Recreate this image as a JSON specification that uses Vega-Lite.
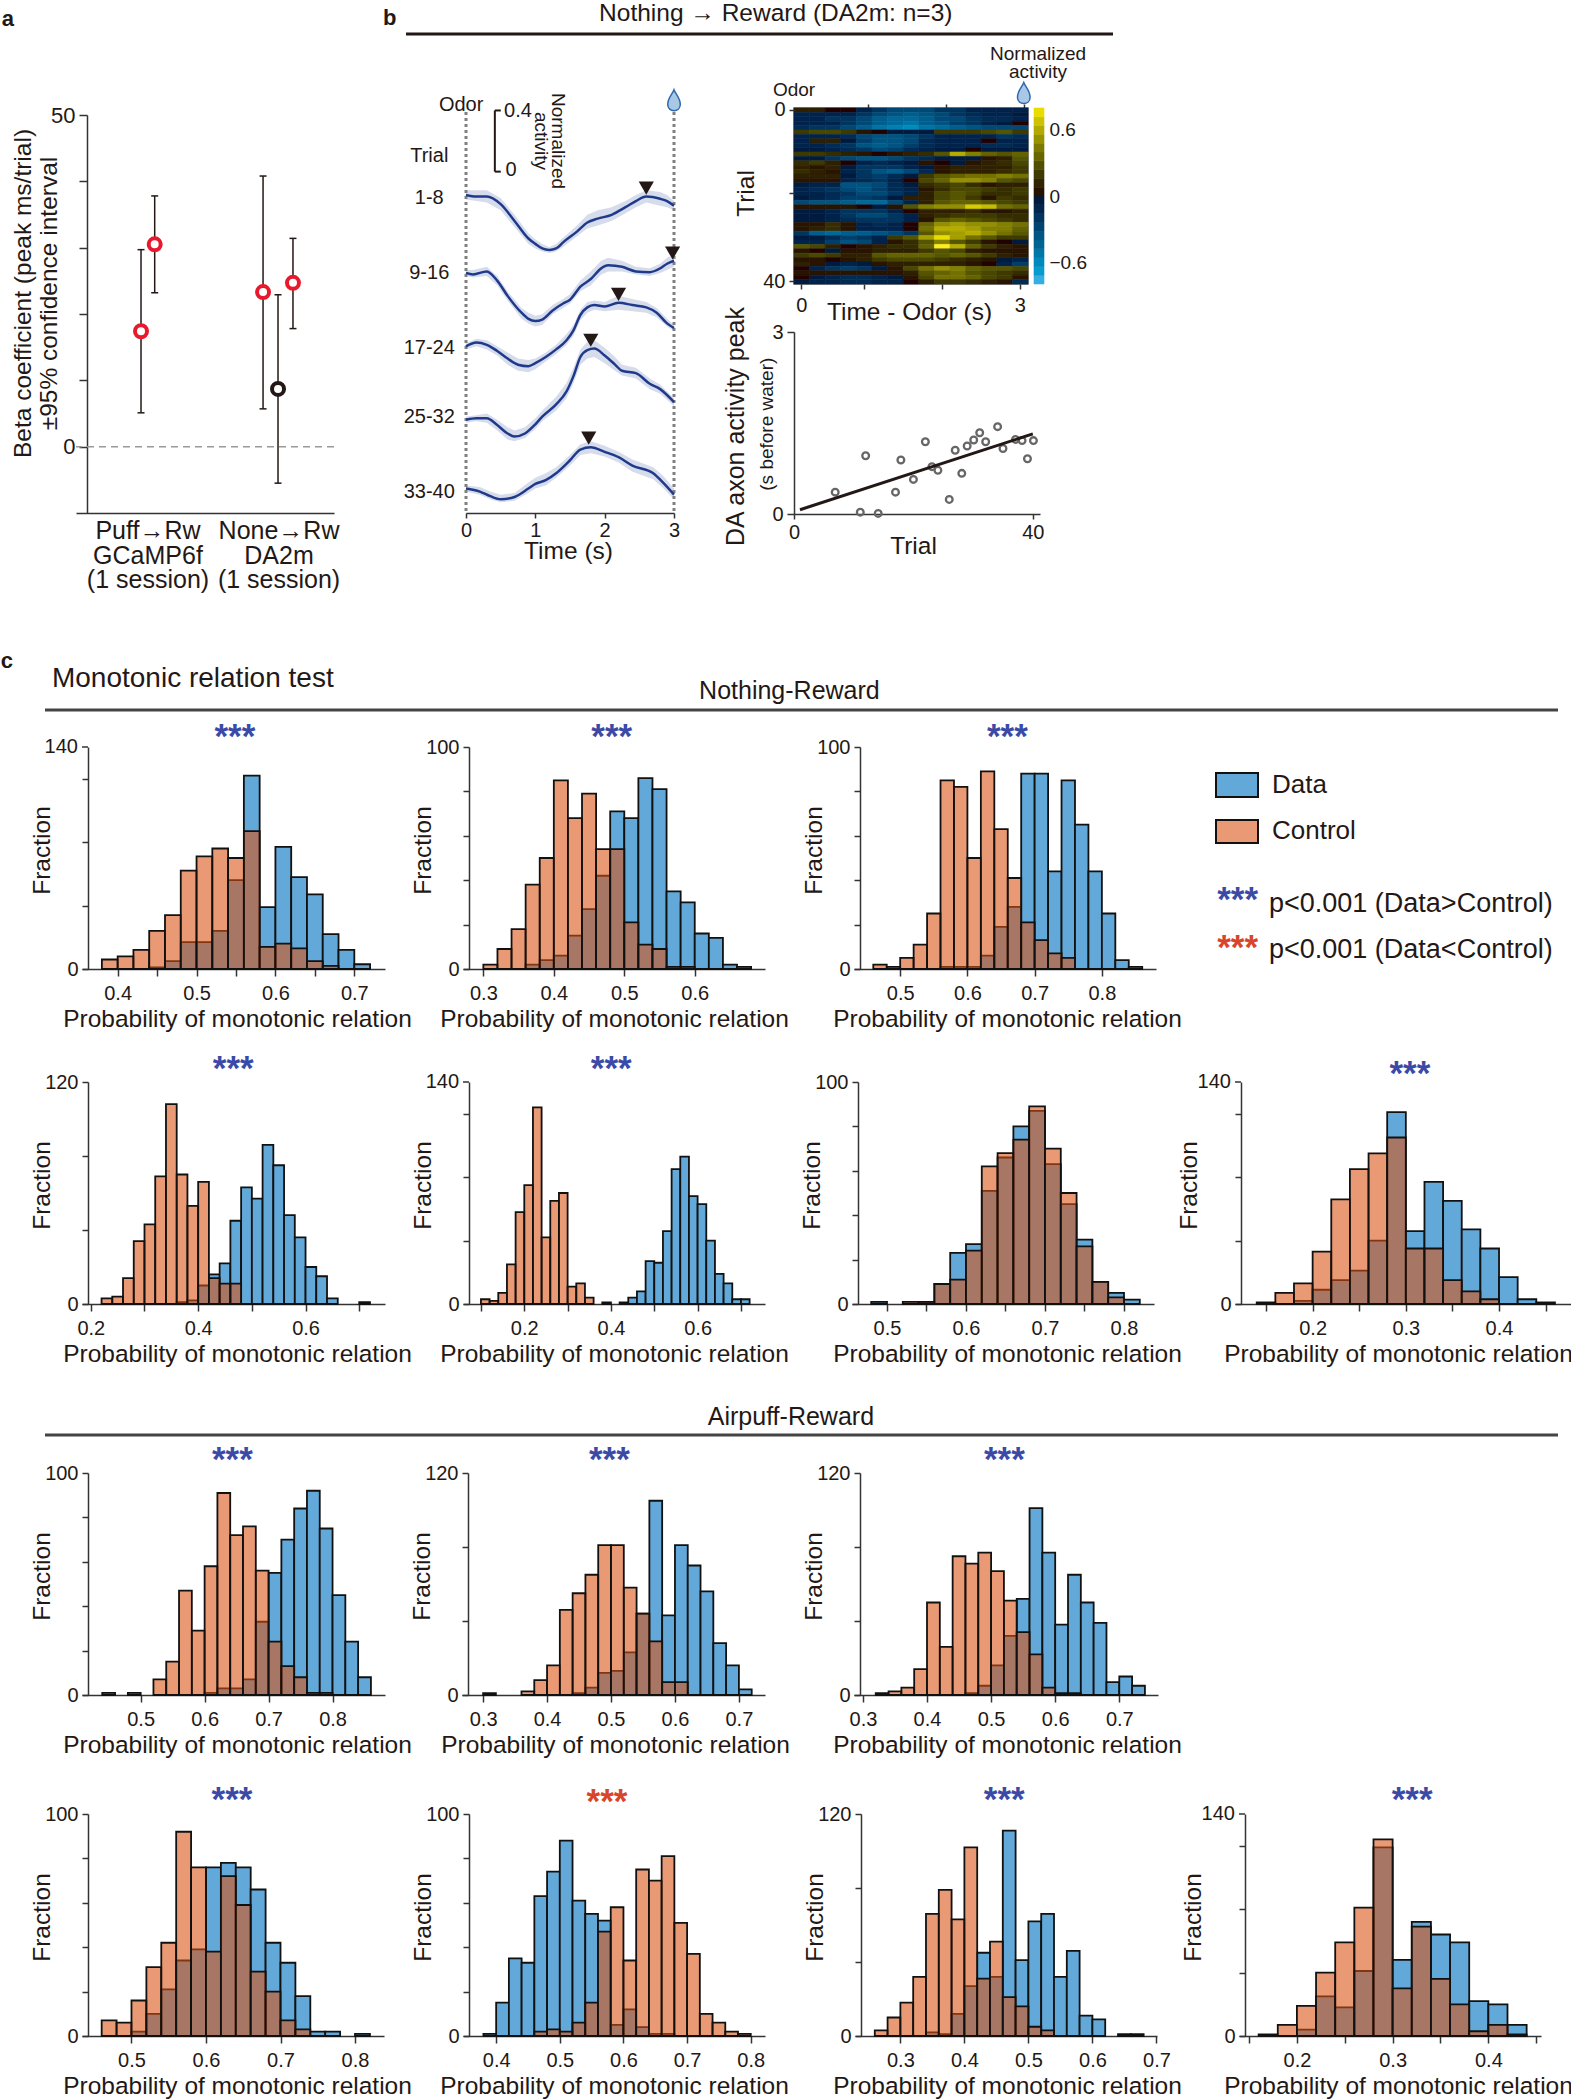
{"$schema":"https://vega.github.io/schema/vega-lite/v6.json","padding":0,"spacing":0,"data":{"values":[]},
"config":{"font":"Liberation Sans","view":{"stroke":null},"text":{"color":"#231815"},"axis":{"grid":false,"domainColor":"#333","domainWidth":1.5,"tickColor":"#333","tickWidth":1.5,"labelColor":"#231815","titleColor":"#231815","labelFontSize":20,"titleFontSize":24.5,"titleFontWeight":"normal","labelOverlap":false,"labelBound":false,"labelFlush":false,"titleBaseline":"middle"},"axisX":{"tickSize":7,"labelPadding":7,"titleY":50},"axisY":{"tickSize":6,"labelPadding":4,"titleX":-46,"titleY":103,"offset":-6}},
"datasets":{
"a":[{"cond":"Puff GCaMP6f 1","u":0.252,"b":17.4,"lo":5.1,"hi":29.7,"sig":"sig"},{"cond":"Puff GCaMP6f 2","u":0.305,"b":30.5,"lo":23.2,"hi":37.8,"sig":"sig"},{"cond":"None DA2m 1","u":0.725,"b":23.3,"lo":5.7,"hi":40.8,"sig":"sig"},{"cond":"None DA2m 2","u":0.783,"b":8.7,"lo":-5.5,"hi":22.9,"sig":"ns"},{"cond":"None DA2m 3","u":0.841,"b":24.7,"lo":17.8,"hi":31.4,"sig":"sig"}],
"lines":[
{"k":"1-8","t":0,"y":2.08,"lo":2.05,"hi":2.11},{"k":"1-8","t":0.15,"y":2.07,"lo":2.04,"hi":2.11},{"k":"1-8","t":0.3,"y":2.07,"lo":2.03,"hi":2.11},{"k":"1-8","t":0.5,"y":2.02,"lo":1.98,"hi":2.06},{"k":"1-8","t":0.7,"y":1.91,"lo":1.87,"hi":1.95},{"k":"1-8","t":0.9,"y":1.795,"lo":1.76,"hi":1.83},{"k":"1-8","t":1,"y":1.76,"lo":1.73,"hi":1.79},{"k":"1-8","t":1.1,"y":1.73,"lo":1.71,"hi":1.76},{"k":"1-8","t":1.2,"y":1.72,"lo":1.7,"hi":1.74},{"k":"1-8","t":1.3,"y":1.73,"lo":1.71,"hi":1.76},{"k":"1-8","t":1.4,"y":1.77,"lo":1.74,"hi":1.8},{"k":"1-8","t":1.6,"y":1.84,"lo":1.81,"hi":1.88},{"k":"1-8","t":1.75,"y":1.9,"lo":1.86,"hi":1.95},{"k":"1-8","t":1.9,"y":1.925,"lo":1.88,"hi":1.98},{"k":"1-8","t":2.1,"y":1.95,"lo":1.91,"hi":2},{"k":"1-8","t":2.3,"y":2,"lo":1.96,"hi":2.04},{"k":"1-8","t":2.45,"y":2.04,"lo":2,"hi":2.08},{"k":"1-8","t":2.6,"y":2.07,"lo":2.03,"hi":2.11},{"k":"1-8","t":2.8,"y":2.055,"lo":2.01,"hi":2.1},{"k":"1-8","t":2.9,"y":2.04,"lo":2,"hi":2.08},{"k":"1-8","t":3,"y":2.01,"lo":1.98,"hi":2.04},
{"k":"9-16","t":0,"y":1.57,"lo":1.55,"hi":1.59},{"k":"9-16","t":0.1,"y":1.56,"lo":1.54,"hi":1.59},{"k":"9-16","t":0.3,"y":1.58,"lo":1.55,"hi":1.61},{"k":"9-16","t":0.45,"y":1.52,"lo":1.49,"hi":1.55},{"k":"9-16","t":0.6,"y":1.42,"lo":1.39,"hi":1.45},{"k":"9-16","t":0.8,"y":1.31,"lo":1.27,"hi":1.34},{"k":"9-16","t":0.9,"y":1.27,"lo":1.24,"hi":1.31},{"k":"9-16","t":1,"y":1.255,"lo":1.22,"hi":1.29},{"k":"9-16","t":1.1,"y":1.265,"lo":1.23,"hi":1.3},{"k":"9-16","t":1.25,"y":1.325,"lo":1.3,"hi":1.36},{"k":"9-16","t":1.4,"y":1.37,"lo":1.34,"hi":1.4},{"k":"9-16","t":1.5,"y":1.395,"lo":1.37,"hi":1.43},{"k":"9-16","t":1.65,"y":1.48,"lo":1.45,"hi":1.52},{"k":"9-16","t":1.8,"y":1.53,"lo":1.49,"hi":1.58},{"k":"9-16","t":1.95,"y":1.6,"lo":1.56,"hi":1.65},{"k":"9-16","t":2.05,"y":1.62,"lo":1.58,"hi":1.67},{"k":"9-16","t":2.25,"y":1.61,"lo":1.58,"hi":1.65},{"k":"9-16","t":2.45,"y":1.58,"lo":1.56,"hi":1.61},{"k":"9-16","t":2.65,"y":1.575,"lo":1.55,"hi":1.6},{"k":"9-16","t":2.8,"y":1.6,"lo":1.57,"hi":1.63},{"k":"9-16","t":2.9,"y":1.63,"lo":1.59,"hi":1.67},{"k":"9-16","t":3,"y":1.65,"lo":1.61,"hi":1.69},
{"k":"17-24","t":0,"y":1.09,"lo":1.07,"hi":1.11},{"k":"17-24","t":0.15,"y":1.115,"lo":1.09,"hi":1.14},{"k":"17-24","t":0.3,"y":1.1,"lo":1.07,"hi":1.13},{"k":"17-24","t":0.45,"y":1.06,"lo":1.03,"hi":1.09},{"k":"17-24","t":0.6,"y":1.01,"lo":0.97,"hi":1.05},{"k":"17-24","t":0.75,"y":0.97,"lo":0.93,"hi":1.01},{"k":"17-24","t":0.9,"y":0.96,"lo":0.92,"hi":1},{"k":"17-24","t":1,"y":0.98,"lo":0.94,"hi":1.01},{"k":"17-24","t":1.15,"y":1.02,"lo":0.99,"hi":1.05},{"k":"17-24","t":1.3,"y":1.07,"lo":1.04,"hi":1.1},{"k":"17-24","t":1.45,"y":1.13,"lo":1.1,"hi":1.17},{"k":"17-24","t":1.55,"y":1.195,"lo":1.16,"hi":1.23},{"k":"17-24","t":1.65,"y":1.295,"lo":1.26,"hi":1.33},{"k":"17-24","t":1.75,"y":1.345,"lo":1.31,"hi":1.38},{"k":"17-24","t":1.85,"y":1.36,"lo":1.33,"hi":1.39},{"k":"17-24","t":2,"y":1.35,"lo":1.32,"hi":1.38},{"k":"17-24","t":2.2,"y":1.375,"lo":1.33,"hi":1.42},{"k":"17-24","t":2.4,"y":1.36,"lo":1.32,"hi":1.4},{"k":"17-24","t":2.6,"y":1.345,"lo":1.31,"hi":1.38},{"k":"17-24","t":2.75,"y":1.31,"lo":1.28,"hi":1.34},{"k":"17-24","t":2.9,"y":1.24,"lo":1.22,"hi":1.27},{"k":"17-24","t":3,"y":1.21,"lo":1.19,"hi":1.23},
{"k":"25-32","t":0,"y":0.61,"lo":0.59,"hi":0.63},{"k":"25-32","t":0.15,"y":0.62,"lo":0.6,"hi":0.64},{"k":"25-32","t":0.3,"y":0.62,"lo":0.59,"hi":0.65},{"k":"25-32","t":0.45,"y":0.575,"lo":0.54,"hi":0.61},{"k":"25-32","t":0.6,"y":0.52,"lo":0.48,"hi":0.56},{"k":"25-32","t":0.7,"y":0.5,"lo":0.47,"hi":0.54},{"k":"25-32","t":0.85,"y":0.52,"lo":0.49,"hi":0.56},{"k":"25-32","t":1,"y":0.58,"lo":0.55,"hi":0.62},{"k":"25-32","t":1.1,"y":0.63,"lo":0.6,"hi":0.67},{"k":"25-32","t":1.3,"y":0.71,"lo":0.67,"hi":0.76},{"k":"25-32","t":1.45,"y":0.795,"lo":0.75,"hi":0.85},{"k":"25-32","t":1.55,"y":0.895,"lo":0.85,"hi":0.95},{"k":"25-32","t":1.65,"y":1.02,"lo":0.97,"hi":1.07},{"k":"25-32","t":1.75,"y":1.065,"lo":1.01,"hi":1.12},{"k":"25-32","t":1.85,"y":1.075,"lo":1.02,"hi":1.13},{"k":"25-32","t":2,"y":1.03,"lo":0.98,"hi":1.08},{"k":"25-32","t":2.15,"y":0.97,"lo":0.93,"hi":1.02},{"k":"25-32","t":2.25,"y":0.93,"lo":0.9,"hi":0.97},{"k":"25-32","t":2.45,"y":0.915,"lo":0.88,"hi":0.95},{"k":"25-32","t":2.65,"y":0.845,"lo":0.81,"hi":0.88},{"k":"25-32","t":2.8,"y":0.81,"lo":0.78,"hi":0.84},{"k":"25-32","t":3,"y":0.725,"lo":0.7,"hi":0.75},
{"k":"33-40","t":0,"y":0.16,"lo":0.14,"hi":0.18},{"k":"33-40","t":0.2,"y":0.14,"lo":0.12,"hi":0.17},{"k":"33-40","t":0.35,"y":0.11,"lo":0.09,"hi":0.14},{"k":"33-40","t":0.5,"y":0.09,"lo":0.07,"hi":0.12},{"k":"33-40","t":0.7,"y":0.105,"lo":0.08,"hi":0.13},{"k":"33-40","t":0.9,"y":0.16,"lo":0.13,"hi":0.2},{"k":"33-40","t":1,"y":0.19,"lo":0.16,"hi":0.23},{"k":"33-40","t":1.15,"y":0.215,"lo":0.18,"hi":0.26},{"k":"33-40","t":1.3,"y":0.26,"lo":0.23,"hi":0.3},{"k":"33-40","t":1.5,"y":0.345,"lo":0.31,"hi":0.38},{"k":"33-40","t":1.65,"y":0.415,"lo":0.38,"hi":0.45},{"k":"33-40","t":1.8,"y":0.43,"lo":0.39,"hi":0.47},{"k":"33-40","t":2,"y":0.4,"lo":0.37,"hi":0.44},{"k":"33-40","t":2.2,"y":0.365,"lo":0.33,"hi":0.4},{"k":"33-40","t":2.4,"y":0.31,"lo":0.27,"hi":0.35},{"k":"33-40","t":2.7,"y":0.26,"lo":0.22,"hi":0.3},{"k":"33-40","t":2.85,"y":0.195,"lo":0.16,"hi":0.24},{"k":"33-40","t":3,"y":0.12,"lo":0.09,"hi":0.16}],
"peaks":[{"k":"1-8","t":2.6,"y":2.125},{"k":"9-16","t":2.98,"y":1.7},{"k":"17-24","t":2.2,"y":1.43},{"k":"25-32","t":1.8,"y":1.13},{"k":"33-40","t":1.77,"y":0.49}],
"scatter":[{"trial":6.9,"peak":0.36},{"trial":11.1,"peak":0.03},{"trial":12,"peak":0.96},{"trial":14.1,"peak":0.01},{"trial":17,"peak":0.36},{"trial":17.9,"peak":0.89},{"trial":20,"peak":0.57},{"trial":22,"peak":1.19},{"trial":23.1,"peak":0.78},{"trial":24.1,"peak":0.72},{"trial":26,"peak":0.24},{"trial":27,"peak":1.05},{"trial":28.1,"peak":0.67},{"trial":29,"peak":1.12},{"trial":30.1,"peak":1.22},{"trial":31.1,"peak":1.34},{"trial":32.1,"peak":1.19},{"trial":34.1,"peak":1.44},{"trial":35,"peak":1.08},{"trial":37.1,"peak":1.23},{"trial":38.2,"peak":1.21},{"trial":39.1,"peak":0.91},{"trial":40.1,"peak":1.21}],
"colorbar":[{"x0":1.0256,"x1":1.0684,"v0":-0.79,"v1":-0.711,"v":-0.75},{"x0":1.0256,"x1":1.0684,"v0":-0.711,"v1":-0.632,"v":-0.67},{"x0":1.0256,"x1":1.0684,"v0":-0.632,"v1":-0.553,"v":-0.59},{"x0":1.0256,"x1":1.0684,"v0":-0.553,"v1":-0.474,"v":-0.51},{"x0":1.0256,"x1":1.0684,"v0":-0.474,"v1":-0.395,"v":-0.43},{"x0":1.0256,"x1":1.0684,"v0":-0.395,"v1":-0.316,"v":-0.36},{"x0":1.0256,"x1":1.0684,"v0":-0.316,"v1":-0.237,"v":-0.28},{"x0":1.0256,"x1":1.0684,"v0":-0.237,"v1":-0.158,"v":-0.2},{"x0":1.0256,"x1":1.0684,"v0":-0.158,"v1":-0.079,"v":-0.12},{"x0":1.0256,"x1":1.0684,"v0":-0.079,"v1":0,"v":-0.04},{"x0":1.0256,"x1":1.0684,"v0":0,"v1":0.079,"v":0.04},{"x0":1.0256,"x1":1.0684,"v0":0.079,"v1":0.158,"v":0.12},{"x0":1.0256,"x1":1.0684,"v0":0.158,"v1":0.237,"v":0.2},{"x0":1.0256,"x1":1.0684,"v0":0.237,"v1":0.316,"v":0.28},{"x0":1.0256,"x1":1.0684,"v0":0.316,"v1":0.395,"v":0.36},{"x0":1.0256,"x1":1.0684,"v0":0.395,"v1":0.474,"v":0.43},{"x0":1.0256,"x1":1.0684,"v0":0.474,"v1":0.553,"v":0.51},{"x0":1.0256,"x1":1.0684,"v0":0.553,"v1":0.632,"v":0.59},{"x0":1.0256,"x1":1.0684,"v0":0.632,"v1":0.711,"v":0.67},{"x0":1.0256,"x1":1.0684,"v0":0.711,"v1":0.79,"v":0.75}],
"heat":[
{"r":1,"c":1,"v":0.1},{"r":1,"c":2,"v":0.1},{"r":1,"c":3,"v":0},{"r":1,"c":4,"v":0},{"r":1,"c":5,"v":-0.1},{"r":1,"c":6,"v":-0.2},{"r":1,"c":7,"v":-0.3},{"r":1,"c":8,"v":-0.3},{"r":1,"c":9,"v":-0.3},{"r":1,"c":10,"v":-0.2},{"r":1,"c":11,"v":-0.2},{"r":1,"c":12,"v":-0.1},{"r":1,"c":13,"v":-0.1},{"r":1,"c":14,"v":-0.1},{"r":1,"c":15,"v":-0.1},
{"r":2,"c":1,"v":-0.1},{"r":2,"c":2,"v":-0.1},{"r":2,"c":3,"v":-0.1},{"r":2,"c":4,"v":-0.1},{"r":2,"c":5,"v":-0.2},{"r":2,"c":6,"v":-0.3},{"r":2,"c":7,"v":-0.35},{"r":2,"c":8,"v":-0.4},{"r":2,"c":9,"v":-0.35},{"r":2,"c":10,"v":-0.3},{"r":2,"c":11,"v":-0.2},{"r":2,"c":12,"v":-0.15},{"r":2,"c":13,"v":-0.1},{"r":2,"c":14,"v":-0.1},{"r":2,"c":15,"v":-0.05},
{"r":3,"c":1,"v":-0.1},{"r":3,"c":2,"v":-0.1},{"r":3,"c":3,"v":-0.2},{"r":3,"c":4,"v":-0.2},{"r":3,"c":5,"v":-0.3},{"r":3,"c":6,"v":-0.4},{"r":3,"c":7,"v":-0.45},{"r":3,"c":8,"v":-0.45},{"r":3,"c":9,"v":-0.4},{"r":3,"c":10,"v":-0.3},{"r":3,"c":11,"v":-0.3},{"r":3,"c":12,"v":-0.2},{"r":3,"c":13,"v":-0.15},{"r":3,"c":14,"v":-0.15},{"r":3,"c":15,"v":-0.1},
{"r":4,"c":1,"v":-0.1},{"r":4,"c":2,"v":-0.1},{"r":4,"c":3,"v":-0.1},{"r":4,"c":4,"v":-0.2},{"r":4,"c":5,"v":-0.3},{"r":4,"c":6,"v":-0.4},{"r":4,"c":7,"v":-0.45},{"r":4,"c":8,"v":-0.5},{"r":4,"c":9,"v":-0.4},{"r":4,"c":10,"v":-0.35},{"r":4,"c":11,"v":-0.25},{"r":4,"c":12,"v":-0.2},{"r":4,"c":13,"v":-0.1},{"r":4,"c":14,"v":-0.05},{"r":4,"c":15,"v":0},
{"r":5,"c":1,"v":-0.15},{"r":5,"c":2,"v":-0.2},{"r":5,"c":3,"v":-0.2},{"r":5,"c":4,"v":-0.3},{"r":5,"c":5,"v":-0.4},{"r":5,"c":6,"v":-0.5},{"r":5,"c":7,"v":-0.55},{"r":5,"c":8,"v":-0.6},{"r":5,"c":9,"v":-0.5},{"r":5,"c":10,"v":-0.45},{"r":5,"c":11,"v":-0.4},{"r":5,"c":12,"v":-0.35},{"r":5,"c":13,"v":-0.3},{"r":5,"c":14,"v":-0.3},{"r":5,"c":15,"v":-0.3},
{"r":6,"c":1,"v":0.2},{"r":6,"c":2,"v":0.25},{"r":6,"c":3,"v":0.25},{"r":6,"c":4,"v":0.2},{"r":6,"c":5,"v":0.05},{"r":6,"c":6,"v":0},{"r":6,"c":7,"v":-0.05},{"r":6,"c":8,"v":-0.05},{"r":6,"c":9,"v":-0.05},{"r":6,"c":10,"v":0.2},{"r":6,"c":11,"v":0.2},{"r":6,"c":12,"v":0.2},{"r":6,"c":13,"v":0.25},{"r":6,"c":14,"v":0.3},{"r":6,"c":15,"v":0.2},
{"r":7,"c":1,"v":-0.1},{"r":7,"c":2,"v":-0.1},{"r":7,"c":3,"v":-0.1},{"r":7,"c":4,"v":-0.15},{"r":7,"c":5,"v":-0.3},{"r":7,"c":6,"v":-0.35},{"r":7,"c":7,"v":-0.35},{"r":7,"c":8,"v":-0.3},{"r":7,"c":9,"v":-0.2},{"r":7,"c":10,"v":-0.1},{"r":7,"c":11,"v":-0.1},{"r":7,"c":12,"v":-0.1},{"r":7,"c":13,"v":-0.1},{"r":7,"c":14,"v":-0.2},{"r":7,"c":15,"v":-0.15},
{"r":8,"c":1,"v":-0.1},{"r":8,"c":2,"v":0.1},{"r":8,"c":3,"v":0.1},{"r":8,"c":4,"v":-0.05},{"r":8,"c":5,"v":-0.25},{"r":8,"c":6,"v":-0.35},{"r":8,"c":7,"v":-0.35},{"r":8,"c":8,"v":-0.3},{"r":8,"c":9,"v":-0.15},{"r":8,"c":10,"v":-0.1},{"r":8,"c":11,"v":-0.1},{"r":8,"c":12,"v":-0.1},{"r":8,"c":13,"v":0},{"r":8,"c":14,"v":-0.1},{"r":8,"c":15,"v":-0.1},
{"r":9,"c":1,"v":-0.1},{"r":9,"c":2,"v":-0.1},{"r":9,"c":3,"v":-0.15},{"r":9,"c":4,"v":-0.2},{"r":9,"c":5,"v":-0.35},{"r":9,"c":6,"v":-0.4},{"r":9,"c":7,"v":-0.35},{"r":9,"c":8,"v":-0.25},{"r":9,"c":9,"v":-0.15},{"r":9,"c":10,"v":-0.1},{"r":9,"c":11,"v":-0.1},{"r":9,"c":12,"v":-0.1},{"r":9,"c":13,"v":-0.15},{"r":9,"c":14,"v":-0.15},{"r":9,"c":15,"v":-0.1},
{"r":10,"c":1,"v":-0.05},{"r":10,"c":2,"v":-0.05},{"r":10,"c":3,"v":-0.1},{"r":10,"c":4,"v":-0.15},{"r":10,"c":5,"v":-0.2},{"r":10,"c":6,"v":-0.3},{"r":10,"c":7,"v":-0.25},{"r":10,"c":8,"v":-0.15},{"r":10,"c":9,"v":-0.1},{"r":10,"c":10,"v":-0.05},{"r":10,"c":11,"v":-0.05},{"r":10,"c":12,"v":0},{"r":10,"c":13,"v":-0.05},{"r":10,"c":14,"v":-0.05},{"r":10,"c":15,"v":-0.05},
{"r":11,"c":1,"v":0.2},{"r":11,"c":2,"v":0.2},{"r":11,"c":3,"v":0.15},{"r":11,"c":4,"v":0.1},{"r":11,"c":5,"v":0.05},{"r":11,"c":6,"v":0},{"r":11,"c":7,"v":0.05},{"r":11,"c":8,"v":0.1},{"r":11,"c":9,"v":0.15},{"r":11,"c":10,"v":0.3},{"r":11,"c":11,"v":0.6},{"r":11,"c":12,"v":0.45},{"r":11,"c":13,"v":0.35},{"r":11,"c":14,"v":0.3},{"r":11,"c":15,"v":0.35},
{"r":12,"c":1,"v":-0.05},{"r":12,"c":2,"v":-0.05},{"r":12,"c":3,"v":-0.2},{"r":12,"c":4,"v":-0.3},{"r":12,"c":5,"v":-0.35},{"r":12,"c":6,"v":-0.35},{"r":12,"c":7,"v":-0.3},{"r":12,"c":8,"v":-0.2},{"r":12,"c":9,"v":-0.15},{"r":12,"c":10,"v":-0.05},{"r":12,"c":11,"v":-0.05},{"r":12,"c":12,"v":-0.05},{"r":12,"c":13,"v":0.05},{"r":12,"c":14,"v":0.1},{"r":12,"c":15,"v":0.3},
{"r":13,"c":1,"v":0.15},{"r":13,"c":2,"v":0.2},{"r":13,"c":3,"v":0.1},{"r":13,"c":4,"v":0},{"r":13,"c":5,"v":-0.1},{"r":13,"c":6,"v":-0.15},{"r":13,"c":7,"v":-0.1},{"r":13,"c":8,"v":-0.05},{"r":13,"c":9,"v":0.05},{"r":13,"c":10,"v":0},{"r":13,"c":11,"v":-0.05},{"r":13,"c":12,"v":0.05},{"r":13,"c":13,"v":0.1},{"r":13,"c":14,"v":0.15},{"r":13,"c":15,"v":0.25},
{"r":14,"c":1,"v":0.1},{"r":14,"c":2,"v":0.05},{"r":14,"c":3,"v":0.1},{"r":14,"c":4,"v":-0.05},{"r":14,"c":5,"v":-0.2},{"r":14,"c":6,"v":-0.2},{"r":14,"c":7,"v":-0.2},{"r":14,"c":8,"v":-0.1},{"r":14,"c":9,"v":-0.05},{"r":14,"c":10,"v":0.05},{"r":14,"c":11,"v":0.1},{"r":14,"c":12,"v":0.1},{"r":14,"c":13,"v":0.1},{"r":14,"c":14,"v":0.1},{"r":14,"c":15,"v":0.2},
{"r":15,"c":1,"v":0.15},{"r":15,"c":2,"v":0.1},{"r":15,"c":3,"v":0.05},{"r":15,"c":4,"v":-0.1},{"r":15,"c":5,"v":-0.2},{"r":15,"c":6,"v":-0.35},{"r":15,"c":7,"v":-0.4},{"r":15,"c":8,"v":-0.3},{"r":15,"c":9,"v":-0.15},{"r":15,"c":10,"v":0.05},{"r":15,"c":11,"v":0.1},{"r":15,"c":12,"v":0.1},{"r":15,"c":13,"v":0.1},{"r":15,"c":14,"v":0.15},{"r":15,"c":15,"v":0.2},
{"r":16,"c":1,"v":0.1},{"r":16,"c":2,"v":0.1},{"r":16,"c":3,"v":0.1},{"r":16,"c":4,"v":-0.05},{"r":16,"c":5,"v":-0.2},{"r":16,"c":6,"v":-0.25},{"r":16,"c":7,"v":-0.15},{"r":16,"c":8,"v":-0.05},{"r":16,"c":9,"v":0.2},{"r":16,"c":10,"v":0.3},{"r":16,"c":11,"v":0.35},{"r":16,"c":12,"v":0.4},{"r":16,"c":13,"v":0.4},{"r":16,"c":14,"v":0.45},{"r":16,"c":15,"v":0.4},
{"r":17,"c":1,"v":0.05},{"r":17,"c":2,"v":0.05},{"r":17,"c":3,"v":0.05},{"r":17,"c":4,"v":-0.1},{"r":17,"c":5,"v":-0.15},{"r":17,"c":6,"v":-0.2},{"r":17,"c":7,"v":-0.1},{"r":17,"c":8,"v":0},{"r":17,"c":9,"v":0.25},{"r":17,"c":10,"v":0.35},{"r":17,"c":11,"v":0.5},{"r":17,"c":12,"v":0.5},{"r":17,"c":13,"v":0.45},{"r":17,"c":14,"v":0.3},{"r":17,"c":15,"v":0.25},
{"r":18,"c":1,"v":-0.05},{"r":18,"c":2,"v":-0.1},{"r":18,"c":3,"v":-0.1},{"r":18,"c":4,"v":-0.35},{"r":18,"c":5,"v":-0.35},{"r":18,"c":6,"v":-0.3},{"r":18,"c":7,"v":-0.15},{"r":18,"c":8,"v":-0.05},{"r":18,"c":9,"v":0.15},{"r":18,"c":10,"v":0.2},{"r":18,"c":11,"v":0.25},{"r":18,"c":12,"v":0.15},{"r":18,"c":13,"v":0.05},{"r":18,"c":14,"v":0.1},{"r":18,"c":15,"v":0.1},
{"r":19,"c":1,"v":-0.1},{"r":19,"c":2,"v":-0.15},{"r":19,"c":3,"v":-0.2},{"r":19,"c":4,"v":-0.3},{"r":19,"c":5,"v":-0.35},{"r":19,"c":6,"v":-0.25},{"r":19,"c":7,"v":-0.15},{"r":19,"c":8,"v":-0.1},{"r":19,"c":9,"v":0.05},{"r":19,"c":10,"v":0.15},{"r":19,"c":11,"v":0.25},{"r":19,"c":12,"v":0.25},{"r":19,"c":13,"v":0.2},{"r":19,"c":14,"v":0.15},{"r":19,"c":15,"v":0.2},
{"r":20,"c":1,"v":-0.1},{"r":20,"c":2,"v":-0.1},{"r":20,"c":3,"v":-0.15},{"r":20,"c":4,"v":-0.2},{"r":20,"c":5,"v":-0.3},{"r":20,"c":6,"v":-0.3},{"r":20,"c":7,"v":-0.2},{"r":20,"c":8,"v":-0.1},{"r":20,"c":9,"v":0.1},{"r":20,"c":10,"v":0.25},{"r":20,"c":11,"v":0.3},{"r":20,"c":12,"v":0.25},{"r":20,"c":13,"v":0.15},{"r":20,"c":14,"v":0.15},{"r":20,"c":15,"v":0.2},
{"r":21,"c":1,"v":-0.05},{"r":21,"c":2,"v":-0.1},{"r":21,"c":3,"v":-0.15},{"r":21,"c":4,"v":-0.25},{"r":21,"c":5,"v":-0.25},{"r":21,"c":6,"v":-0.2},{"r":21,"c":7,"v":-0.05},{"r":21,"c":8,"v":0.1},{"r":21,"c":9,"v":0.1},{"r":21,"c":10,"v":0.25},{"r":21,"c":11,"v":0.3},{"r":21,"c":12,"v":0.2},{"r":21,"c":13,"v":0.05},{"r":21,"c":14,"v":0.2},{"r":21,"c":15,"v":0.15},
{"r":22,"c":1,"v":-0.3},{"r":22,"c":2,"v":-0.35},{"r":22,"c":3,"v":-0.35},{"r":22,"c":4,"v":-0.4},{"r":22,"c":5,"v":-0.45},{"r":22,"c":6,"v":-0.45},{"r":22,"c":7,"v":-0.3},{"r":22,"c":8,"v":-0.1},{"r":22,"c":9,"v":0.1},{"r":22,"c":10,"v":0.3},{"r":22,"c":11,"v":0.35},{"r":22,"c":12,"v":0.35},{"r":22,"c":13,"v":0.3},{"r":22,"c":14,"v":0.25},{"r":22,"c":15,"v":0.2},
{"r":23,"c":1,"v":0.05},{"r":23,"c":2,"v":0.05},{"r":23,"c":3,"v":0.05},{"r":23,"c":4,"v":0.05},{"r":23,"c":5,"v":0},{"r":23,"c":6,"v":-0.05},{"r":23,"c":7,"v":0.05},{"r":23,"c":8,"v":0.3},{"r":23,"c":9,"v":0.45},{"r":23,"c":10,"v":0.5},{"r":23,"c":11,"v":0.5},{"r":23,"c":12,"v":0.7},{"r":23,"c":13,"v":0.65},{"r":23,"c":14,"v":0.4},{"r":23,"c":15,"v":0.35},
{"r":24,"c":1,"v":-0.05},{"r":24,"c":2,"v":-0.05},{"r":24,"c":3,"v":-0.1},{"r":24,"c":4,"v":-0.2},{"r":24,"c":5,"v":-0.2},{"r":24,"c":6,"v":-0.2},{"r":24,"c":7,"v":-0.1},{"r":24,"c":8,"v":0},{"r":24,"c":9,"v":0.1},{"r":24,"c":10,"v":0.1},{"r":24,"c":11,"v":0.1},{"r":24,"c":12,"v":0.15},{"r":24,"c":13,"v":0.05},{"r":24,"c":14,"v":0.05},{"r":24,"c":15,"v":0.1},
{"r":25,"c":1,"v":-0.05},{"r":25,"c":2,"v":-0.05},{"r":25,"c":3,"v":-0.1},{"r":25,"c":4,"v":-0.2},{"r":25,"c":5,"v":-0.3},{"r":25,"c":6,"v":-0.3},{"r":25,"c":7,"v":-0.2},{"r":25,"c":8,"v":-0.1},{"r":25,"c":9,"v":0.1},{"r":25,"c":10,"v":0.15},{"r":25,"c":11,"v":0.2},{"r":25,"c":12,"v":0.2},{"r":25,"c":13,"v":0.2},{"r":25,"c":14,"v":0.15},{"r":25,"c":15,"v":0.15},
{"r":26,"c":1,"v":-0.05},{"r":26,"c":2,"v":-0.05},{"r":26,"c":3,"v":-0.1},{"r":26,"c":4,"v":-0.15},{"r":26,"c":5,"v":-0.2},{"r":26,"c":6,"v":-0.2},{"r":26,"c":7,"v":-0.2},{"r":26,"c":8,"v":-0.1},{"r":26,"c":9,"v":0.05},{"r":26,"c":10,"v":0.3},{"r":26,"c":11,"v":0.35},{"r":26,"c":12,"v":0.3},{"r":26,"c":13,"v":0.25},{"r":26,"c":14,"v":0.2},{"r":26,"c":15,"v":0.15},
{"r":27,"c":1,"v":0.05},{"r":27,"c":2,"v":0.05},{"r":27,"c":3,"v":0.15},{"r":27,"c":4,"v":0.05},{"r":27,"c":5,"v":-0.1},{"r":27,"c":6,"v":-0.15},{"r":27,"c":7,"v":-0.1},{"r":27,"c":8,"v":0},{"r":27,"c":9,"v":0.35},{"r":27,"c":10,"v":0.5},{"r":27,"c":11,"v":0.55},{"r":27,"c":12,"v":0.5},{"r":27,"c":13,"v":0.5},{"r":27,"c":14,"v":0.45},{"r":27,"c":15,"v":0.4},
{"r":28,"c":1,"v":0.05},{"r":28,"c":2,"v":0.1},{"r":28,"c":3,"v":0.15},{"r":28,"c":4,"v":0.05},{"r":28,"c":5,"v":-0.1},{"r":28,"c":6,"v":-0.1},{"r":28,"c":7,"v":-0.1},{"r":28,"c":8,"v":0},{"r":28,"c":9,"v":0.4},{"r":28,"c":10,"v":0.6},{"r":28,"c":11,"v":0.6},{"r":28,"c":12,"v":0.55},{"r":28,"c":13,"v":0.45},{"r":28,"c":14,"v":0.45},{"r":28,"c":15,"v":0.35},
{"r":29,"c":1,"v":-0.2},{"r":29,"c":2,"v":-0.4},{"r":29,"c":3,"v":-0.45},{"r":29,"c":4,"v":-0.4},{"r":29,"c":5,"v":-0.4},{"r":29,"c":6,"v":-0.35},{"r":29,"c":7,"v":-0.3},{"r":29,"c":8,"v":-0.2},{"r":29,"c":9,"v":0.3},{"r":29,"c":10,"v":0.5},{"r":29,"c":11,"v":0.55},{"r":29,"c":12,"v":0.6},{"r":29,"c":13,"v":0.5},{"r":29,"c":14,"v":0.4},{"r":29,"c":15,"v":0.3},
{"r":30,"c":1,"v":-0.05},{"r":30,"c":2,"v":-0.05},{"r":30,"c":3,"v":-0.15},{"r":30,"c":4,"v":-0.25},{"r":30,"c":5,"v":-0.2},{"r":30,"c":6,"v":-0.1},{"r":30,"c":7,"v":0.2},{"r":30,"c":8,"v":0.3},{"r":30,"c":9,"v":0.55},{"r":30,"c":10,"v":0.75},{"r":30,"c":11,"v":0.55},{"r":30,"c":12,"v":0.4},{"r":30,"c":13,"v":0.3},{"r":30,"c":14,"v":0.2},{"r":30,"c":15,"v":0.2},
{"r":31,"c":1,"v":-0.1},{"r":31,"c":2,"v":-0.1},{"r":31,"c":3,"v":-0.25},{"r":31,"c":4,"v":-0.35},{"r":31,"c":5,"v":-0.3},{"r":31,"c":6,"v":-0.1},{"r":31,"c":7,"v":0.05},{"r":31,"c":8,"v":0.15},{"r":31,"c":9,"v":0.3},{"r":31,"c":10,"v":0.45},{"r":31,"c":11,"v":0.3},{"r":31,"c":12,"v":0.2},{"r":31,"c":13,"v":0.05},{"r":31,"c":14,"v":0},{"r":31,"c":15,"v":-0.05},
{"r":32,"c":1,"v":0.3},{"r":32,"c":2,"v":0.25},{"r":32,"c":3,"v":0.1},{"r":32,"c":4,"v":0},{"r":32,"c":5,"v":0.05},{"r":32,"c":6,"v":0.1},{"r":32,"c":7,"v":0.15},{"r":32,"c":8,"v":0.15},{"r":32,"c":9,"v":0.35},{"r":32,"c":10,"v":0.8},{"r":32,"c":11,"v":0.6},{"r":32,"c":12,"v":0.35},{"r":32,"c":13,"v":0.2},{"r":32,"c":14,"v":0.1},{"r":32,"c":15,"v":0.05},
{"r":33,"c":1,"v":0.05},{"r":33,"c":2,"v":0},{"r":33,"c":3,"v":-0.05},{"r":33,"c":4,"v":0.05},{"r":33,"c":5,"v":0.05},{"r":33,"c":6,"v":0.1},{"r":33,"c":7,"v":0.1},{"r":33,"c":8,"v":0.1},{"r":33,"c":9,"v":0.2},{"r":33,"c":10,"v":0.3},{"r":33,"c":11,"v":0.25},{"r":33,"c":12,"v":0.1},{"r":33,"c":13,"v":0.05},{"r":33,"c":14,"v":0.05},{"r":33,"c":15,"v":0.05},
{"r":34,"c":1,"v":0.2},{"r":34,"c":2,"v":0.25},{"r":34,"c":3,"v":0.2},{"r":34,"c":4,"v":0.1},{"r":34,"c":5,"v":0.1},{"r":34,"c":6,"v":0.3},{"r":34,"c":7,"v":0.35},{"r":34,"c":8,"v":0.35},{"r":34,"c":9,"v":0.35},{"r":34,"c":10,"v":0.3},{"r":34,"c":11,"v":0.35},{"r":34,"c":12,"v":0.3},{"r":34,"c":13,"v":0.2},{"r":34,"c":14,"v":0.1},{"r":34,"c":15,"v":0.05},
{"r":35,"c":1,"v":0.05},{"r":35,"c":2,"v":0.05},{"r":35,"c":3,"v":0},{"r":35,"c":4,"v":0.05},{"r":35,"c":5,"v":0.1},{"r":35,"c":6,"v":0.2},{"r":35,"c":7,"v":0.25},{"r":35,"c":8,"v":0.25},{"r":35,"c":9,"v":0.25},{"r":35,"c":10,"v":0.2},{"r":35,"c":11,"v":0.15},{"r":35,"c":12,"v":0.1},{"r":35,"c":13,"v":0.05},{"r":35,"c":14,"v":-0.05},{"r":35,"c":15,"v":-0.1},
{"r":36,"c":1,"v":0.1},{"r":36,"c":2,"v":0.05},{"r":36,"c":3,"v":-0.05},{"r":36,"c":4,"v":-0.1},{"r":36,"c":5,"v":-0.05},{"r":36,"c":6,"v":0.05},{"r":36,"c":7,"v":0.1},{"r":36,"c":8,"v":0.1},{"r":36,"c":9,"v":0.1},{"r":36,"c":10,"v":0.1},{"r":36,"c":11,"v":0.1},{"r":36,"c":12,"v":0.05},{"r":36,"c":13,"v":0},{"r":36,"c":14,"v":-0.1},{"r":36,"c":15,"v":-0.25},
{"r":37,"c":1,"v":0},{"r":37,"c":2,"v":-0.1},{"r":37,"c":3,"v":-0.2},{"r":37,"c":4,"v":-0.25},{"r":37,"c":5,"v":-0.2},{"r":37,"c":6,"v":-0.05},{"r":37,"c":7,"v":0.05},{"r":37,"c":8,"v":0.25},{"r":37,"c":9,"v":0.4},{"r":37,"c":10,"v":0.5},{"r":37,"c":11,"v":0.45},{"r":37,"c":12,"v":0.35},{"r":37,"c":13,"v":0.3},{"r":37,"c":14,"v":0.3},{"r":37,"c":15,"v":0.25},
{"r":38,"c":1,"v":0.05},{"r":38,"c":2,"v":0.05},{"r":38,"c":3,"v":0.05},{"r":38,"c":4,"v":0.05},{"r":38,"c":5,"v":0.05},{"r":38,"c":6,"v":0.05},{"r":38,"c":7,"v":0.05},{"r":38,"c":8,"v":0.1},{"r":38,"c":9,"v":0.3},{"r":38,"c":10,"v":0.35},{"r":38,"c":11,"v":0.4},{"r":38,"c":12,"v":0.3},{"r":38,"c":13,"v":0.25},{"r":38,"c":14,"v":0.2},{"r":38,"c":15,"v":0.15},
{"r":39,"c":1,"v":0},{"r":39,"c":2,"v":-0.05},{"r":39,"c":3,"v":-0.1},{"r":39,"c":4,"v":-0.15},{"r":39,"c":5,"v":-0.15},{"r":39,"c":6,"v":-0.1},{"r":39,"c":7,"v":-0.05},{"r":39,"c":8,"v":0.05},{"r":39,"c":9,"v":0.25},{"r":39,"c":10,"v":0.4},{"r":39,"c":11,"v":0.4},{"r":39,"c":12,"v":0.35},{"r":39,"c":13,"v":0.25},{"r":39,"c":14,"v":0.2},{"r":39,"c":15,"v":0.05},
{"r":40,"c":1,"v":-0.05},{"r":40,"c":2,"v":-0.1},{"r":40,"c":3,"v":-0.1},{"r":40,"c":4,"v":-0.15},{"r":40,"c":5,"v":-0.15},{"r":40,"c":6,"v":-0.1},{"r":40,"c":7,"v":-0.1},{"r":40,"c":8,"v":0},{"r":40,"c":9,"v":0.1},{"r":40,"c":10,"v":0.2},{"r":40,"c":11,"v":0.2},{"r":40,"c":12,"v":0.15},{"r":40,"c":13,"v":0.1},{"r":40,"c":14,"v":0.05},{"r":40,"c":15,"v":-0.15}],
"h1":[{"group":"Data","x0":0.44,"x1":0.46,"n":1},{"group":"Data","x0":0.46,"x1":0.48,"n":5},{"group":"Data","x0":0.48,"x1":0.5,"n":17},{"group":"Data","x0":0.5,"x1":0.52,"n":17},{"group":"Data","x0":0.52,"x1":0.54,"n":24},{"group":"Data","x0":0.54,"x1":0.56,"n":56},{"group":"Data","x0":0.56,"x1":0.58,"n":122},{"group":"Data","x0":0.58,"x1":0.6,"n":39},{"group":"Data","x0":0.6,"x1":0.62,"n":77},{"group":"Data","x0":0.62,"x1":0.64,"n":58},{"group":"Data","x0":0.64,"x1":0.66,"n":47},{"group":"Data","x0":0.66,"x1":0.68,"n":22},{"group":"Data","x0":0.68,"x1":0.7,"n":12},{"group":"Data","x0":0.7,"x1":0.72,"n":3},
{"group":"Control","x0":0.38,"x1":0.4,"n":6},{"group":"Control","x0":0.4,"x1":0.42,"n":8},{"group":"Control","x0":0.42,"x1":0.44,"n":12},{"group":"Control","x0":0.44,"x1":0.46,"n":24},{"group":"Control","x0":0.46,"x1":0.48,"n":34},{"group":"Control","x0":0.48,"x1":0.5,"n":62},{"group":"Control","x0":0.5,"x1":0.52,"n":71},{"group":"Control","x0":0.52,"x1":0.54,"n":76},{"group":"Control","x0":0.54,"x1":0.56,"n":70},{"group":"Control","x0":0.56,"x1":0.58,"n":87},{"group":"Control","x0":0.58,"x1":0.6,"n":14},{"group":"Control","x0":0.6,"x1":0.62,"n":16},{"group":"Control","x0":0.62,"x1":0.64,"n":13},{"group":"Control","x0":0.64,"x1":0.66,"n":5},{"group":"Control","x0":0.66,"x1":0.68,"n":2}],
"h2":[{"group":"Data","x0":0.36,"x1":0.38,"n":2},{"group":"Data","x0":0.38,"x1":0.4,"n":4},{"group":"Data","x0":0.4,"x1":0.42,"n":6},{"group":"Data","x0":0.42,"x1":0.44,"n":15},{"group":"Data","x0":0.44,"x1":0.46,"n":27},{"group":"Data","x0":0.46,"x1":0.48,"n":42},{"group":"Data","x0":0.48,"x1":0.5,"n":71},{"group":"Data","x0":0.5,"x1":0.52,"n":68},{"group":"Data","x0":0.52,"x1":0.54,"n":86},{"group":"Data","x0":0.54,"x1":0.56,"n":81},{"group":"Data","x0":0.56,"x1":0.58,"n":35},{"group":"Data","x0":0.58,"x1":0.6,"n":30},{"group":"Data","x0":0.6,"x1":0.62,"n":16},{"group":"Data","x0":0.62,"x1":0.64,"n":14},{"group":"Data","x0":0.64,"x1":0.66,"n":2},{"group":"Data","x0":0.66,"x1":0.68,"n":1},
{"group":"Control","x0":0.3,"x1":0.32,"n":2},{"group":"Control","x0":0.32,"x1":0.34,"n":9},{"group":"Control","x0":0.34,"x1":0.36,"n":18},{"group":"Control","x0":0.36,"x1":0.38,"n":38},{"group":"Control","x0":0.38,"x1":0.4,"n":50},{"group":"Control","x0":0.4,"x1":0.42,"n":85},{"group":"Control","x0":0.42,"x1":0.44,"n":68},{"group":"Control","x0":0.44,"x1":0.46,"n":79},{"group":"Control","x0":0.46,"x1":0.48,"n":54},{"group":"Control","x0":0.48,"x1":0.5,"n":54},{"group":"Control","x0":0.5,"x1":0.52,"n":21},{"group":"Control","x0":0.52,"x1":0.54,"n":11},{"group":"Control","x0":0.54,"x1":0.56,"n":9},{"group":"Control","x0":0.56,"x1":0.58,"n":1},{"group":"Control","x0":0.58,"x1":0.6,"n":1}],
"h3":[{"group":"Data","x0":0.56,"x1":0.58,"n":1},{"group":"Data","x0":0.58,"x1":0.6,"n":1},{"group":"Data","x0":0.6,"x1":0.62,"n":1},{"group":"Data","x0":0.62,"x1":0.64,"n":6},{"group":"Data","x0":0.64,"x1":0.66,"n":19},{"group":"Data","x0":0.66,"x1":0.68,"n":28},{"group":"Data","x0":0.68,"x1":0.7,"n":88},{"group":"Data","x0":0.7,"x1":0.72,"n":88},{"group":"Data","x0":0.72,"x1":0.74,"n":44},{"group":"Data","x0":0.74,"x1":0.76,"n":85},{"group":"Data","x0":0.76,"x1":0.78,"n":65},{"group":"Data","x0":0.78,"x1":0.8,"n":44},{"group":"Data","x0":0.8,"x1":0.82,"n":25},{"group":"Data","x0":0.82,"x1":0.84,"n":4},{"group":"Data","x0":0.84,"x1":0.86,"n":1},
{"group":"Control","x0":0.46,"x1":0.48,"n":2},{"group":"Control","x0":0.48,"x1":0.5,"n":1},{"group":"Control","x0":0.5,"x1":0.52,"n":5},{"group":"Control","x0":0.52,"x1":0.54,"n":11},{"group":"Control","x0":0.54,"x1":0.56,"n":25},{"group":"Control","x0":0.56,"x1":0.58,"n":85},{"group":"Control","x0":0.58,"x1":0.6,"n":82},{"group":"Control","x0":0.6,"x1":0.62,"n":50},{"group":"Control","x0":0.62,"x1":0.64,"n":89},{"group":"Control","x0":0.64,"x1":0.66,"n":63},{"group":"Control","x0":0.66,"x1":0.68,"n":41},{"group":"Control","x0":0.68,"x1":0.7,"n":21},{"group":"Control","x0":0.7,"x1":0.72,"n":13},{"group":"Control","x0":0.72,"x1":0.74,"n":7},{"group":"Control","x0":0.74,"x1":0.76,"n":5}],
"h4":[{"group":"Data","x0":0.36,"x1":0.38,"n":1},{"group":"Data","x0":0.38,"x1":0.4,"n":2},{"group":"Data","x0":0.4,"x1":0.42,"n":10},{"group":"Data","x0":0.42,"x1":0.44,"n":16},{"group":"Data","x0":0.44,"x1":0.46,"n":22},{"group":"Data","x0":0.46,"x1":0.48,"n":45},{"group":"Data","x0":0.48,"x1":0.5,"n":63},{"group":"Data","x0":0.5,"x1":0.52,"n":57},{"group":"Data","x0":0.52,"x1":0.54,"n":86},{"group":"Data","x0":0.54,"x1":0.56,"n":75},{"group":"Data","x0":0.56,"x1":0.58,"n":48},{"group":"Data","x0":0.58,"x1":0.6,"n":36},{"group":"Data","x0":0.6,"x1":0.62,"n":20},{"group":"Data","x0":0.62,"x1":0.64,"n":15},{"group":"Data","x0":0.64,"x1":0.66,"n":3},{"group":"Data","x0":0.7,"x1":0.72,"n":1},
{"group":"Control","x0":0.22,"x1":0.24,"n":3},{"group":"Control","x0":0.24,"x1":0.26,"n":4},{"group":"Control","x0":0.26,"x1":0.28,"n":14},{"group":"Control","x0":0.28,"x1":0.3,"n":34},{"group":"Control","x0":0.3,"x1":0.32,"n":43},{"group":"Control","x0":0.32,"x1":0.34,"n":69},{"group":"Control","x0":0.34,"x1":0.36,"n":108},{"group":"Control","x0":0.36,"x1":0.38,"n":70},{"group":"Control","x0":0.38,"x1":0.4,"n":53},{"group":"Control","x0":0.4,"x1":0.42,"n":66},{"group":"Control","x0":0.42,"x1":0.44,"n":14},{"group":"Control","x0":0.44,"x1":0.46,"n":11},{"group":"Control","x0":0.46,"x1":0.48,"n":11}],
"h5":[{"group":"Data","x0":0.42,"x1":0.44,"n":1},{"group":"Data","x0":0.44,"x1":0.46,"n":4},{"group":"Data","x0":0.46,"x1":0.48,"n":8},{"group":"Data","x0":0.48,"x1":0.5,"n":27},{"group":"Data","x0":0.5,"x1":0.52,"n":26},{"group":"Data","x0":0.52,"x1":0.54,"n":46},{"group":"Data","x0":0.54,"x1":0.56,"n":85},{"group":"Data","x0":0.56,"x1":0.58,"n":93},{"group":"Data","x0":0.58,"x1":0.6,"n":68},{"group":"Data","x0":0.6,"x1":0.62,"n":63},{"group":"Data","x0":0.62,"x1":0.64,"n":40},{"group":"Data","x0":0.64,"x1":0.66,"n":19},{"group":"Data","x0":0.66,"x1":0.68,"n":13},{"group":"Data","x0":0.68,"x1":0.7,"n":3},{"group":"Data","x0":0.7,"x1":0.72,"n":3},
{"group":"Control","x0":0.1,"x1":0.12,"n":3},{"group":"Control","x0":0.12,"x1":0.14,"n":2},{"group":"Control","x0":0.14,"x1":0.16,"n":7},{"group":"Control","x0":0.16,"x1":0.18,"n":25},{"group":"Control","x0":0.18,"x1":0.2,"n":58},{"group":"Control","x0":0.2,"x1":0.22,"n":75},{"group":"Control","x0":0.22,"x1":0.24,"n":124},{"group":"Control","x0":0.24,"x1":0.26,"n":42},{"group":"Control","x0":0.26,"x1":0.28,"n":65},{"group":"Control","x0":0.28,"x1":0.3,"n":70},{"group":"Control","x0":0.3,"x1":0.32,"n":11},{"group":"Control","x0":0.32,"x1":0.34,"n":13},{"group":"Control","x0":0.34,"x1":0.36,"n":4},{"group":"Control","x0":0.38,"x1":0.4,"n":1}],
"h6":[{"group":"Data","x0":0.48,"x1":0.5,"n":1},{"group":"Data","x0":0.54,"x1":0.56,"n":1},{"group":"Data","x0":0.56,"x1":0.58,"n":9},{"group":"Data","x0":0.58,"x1":0.6,"n":23},{"group":"Data","x0":0.6,"x1":0.62,"n":27},{"group":"Data","x0":0.62,"x1":0.64,"n":51},{"group":"Data","x0":0.64,"x1":0.66,"n":66},{"group":"Data","x0":0.66,"x1":0.68,"n":80},{"group":"Data","x0":0.68,"x1":0.7,"n":87},{"group":"Data","x0":0.7,"x1":0.72,"n":63},{"group":"Data","x0":0.72,"x1":0.74,"n":45},{"group":"Data","x0":0.74,"x1":0.76,"n":29},{"group":"Data","x0":0.76,"x1":0.78,"n":10},{"group":"Data","x0":0.78,"x1":0.8,"n":5},{"group":"Data","x0":0.8,"x1":0.82,"n":2},
{"group":"Control","x0":0.52,"x1":0.54,"n":1},{"group":"Control","x0":0.54,"x1":0.56,"n":1},{"group":"Control","x0":0.56,"x1":0.58,"n":9},{"group":"Control","x0":0.58,"x1":0.6,"n":11},{"group":"Control","x0":0.6,"x1":0.62,"n":24},{"group":"Control","x0":0.62,"x1":0.64,"n":62},{"group":"Control","x0":0.64,"x1":0.66,"n":68},{"group":"Control","x0":0.66,"x1":0.68,"n":74},{"group":"Control","x0":0.68,"x1":0.7,"n":89},{"group":"Control","x0":0.7,"x1":0.72,"n":70},{"group":"Control","x0":0.72,"x1":0.74,"n":50},{"group":"Control","x0":0.74,"x1":0.76,"n":26},{"group":"Control","x0":0.76,"x1":0.78,"n":10},{"group":"Control","x0":0.78,"x1":0.8,"n":3}],
"h7":[{"group":"Data","x0":0.18,"x1":0.2,"n":2},{"group":"Data","x0":0.2,"x1":0.22,"n":9},{"group":"Data","x0":0.22,"x1":0.24,"n":15},{"group":"Data","x0":0.24,"x1":0.26,"n":21},{"group":"Data","x0":0.26,"x1":0.28,"n":40},{"group":"Data","x0":0.28,"x1":0.3,"n":121},{"group":"Data","x0":0.3,"x1":0.32,"n":46},{"group":"Data","x0":0.32,"x1":0.34,"n":77},{"group":"Data","x0":0.34,"x1":0.36,"n":65},{"group":"Data","x0":0.36,"x1":0.38,"n":47},{"group":"Data","x0":0.38,"x1":0.4,"n":35},{"group":"Data","x0":0.4,"x1":0.42,"n":17},{"group":"Data","x0":0.42,"x1":0.44,"n":3},{"group":"Data","x0":0.44,"x1":0.46,"n":1},
{"group":"Control","x0":0.14,"x1":0.16,"n":1},{"group":"Control","x0":0.16,"x1":0.18,"n":7},{"group":"Control","x0":0.18,"x1":0.2,"n":13},{"group":"Control","x0":0.2,"x1":0.22,"n":33},{"group":"Control","x0":0.22,"x1":0.24,"n":66},{"group":"Control","x0":0.24,"x1":0.26,"n":85},{"group":"Control","x0":0.26,"x1":0.28,"n":95},{"group":"Control","x0":0.28,"x1":0.3,"n":105},{"group":"Control","x0":0.3,"x1":0.32,"n":35},{"group":"Control","x0":0.32,"x1":0.34,"n":35},{"group":"Control","x0":0.34,"x1":0.36,"n":15},{"group":"Control","x0":0.36,"x1":0.38,"n":8},{"group":"Control","x0":0.38,"x1":0.4,"n":3}],
"h8":[{"group":"Data","x0":0.6,"x1":0.62,"n":1},{"group":"Data","x0":0.62,"x1":0.64,"n":3},{"group":"Data","x0":0.64,"x1":0.66,"n":3},{"group":"Data","x0":0.66,"x1":0.68,"n":7},{"group":"Data","x0":0.68,"x1":0.7,"n":33},{"group":"Data","x0":0.7,"x1":0.72,"n":55},{"group":"Data","x0":0.72,"x1":0.74,"n":70},{"group":"Data","x0":0.74,"x1":0.76,"n":84},{"group":"Data","x0":0.76,"x1":0.78,"n":92},{"group":"Data","x0":0.78,"x1":0.8,"n":75},{"group":"Data","x0":0.8,"x1":0.82,"n":45},{"group":"Data","x0":0.82,"x1":0.84,"n":24},{"group":"Data","x0":0.84,"x1":0.86,"n":8},
{"group":"Control","x0":0.44,"x1":0.46,"n":1},{"group":"Control","x0":0.48,"x1":0.5,"n":1},{"group":"Control","x0":0.52,"x1":0.54,"n":7},{"group":"Control","x0":0.54,"x1":0.56,"n":15},{"group":"Control","x0":0.56,"x1":0.58,"n":47},{"group":"Control","x0":0.58,"x1":0.6,"n":29},{"group":"Control","x0":0.6,"x1":0.62,"n":58},{"group":"Control","x0":0.62,"x1":0.64,"n":91},{"group":"Control","x0":0.64,"x1":0.66,"n":72},{"group":"Control","x0":0.66,"x1":0.68,"n":76},{"group":"Control","x0":0.68,"x1":0.7,"n":56},{"group":"Control","x0":0.7,"x1":0.72,"n":24},{"group":"Control","x0":0.72,"x1":0.74,"n":13},{"group":"Control","x0":0.74,"x1":0.76,"n":8},{"group":"Control","x0":0.76,"x1":0.78,"n":1},{"group":"Control","x0":0.78,"x1":0.8,"n":1}],
"h9":[{"group":"Data","x0":0.44,"x1":0.46,"n":1},{"group":"Data","x0":0.46,"x1":0.48,"n":4},{"group":"Data","x0":0.48,"x1":0.5,"n":12},{"group":"Data","x0":0.5,"x1":0.52,"n":13},{"group":"Data","x0":0.52,"x1":0.54,"n":23},{"group":"Data","x0":0.54,"x1":0.56,"n":44},{"group":"Data","x0":0.56,"x1":0.58,"n":105},{"group":"Data","x0":0.58,"x1":0.6,"n":43},{"group":"Data","x0":0.6,"x1":0.62,"n":81},{"group":"Data","x0":0.62,"x1":0.64,"n":70},{"group":"Data","x0":0.64,"x1":0.66,"n":56},{"group":"Data","x0":0.66,"x1":0.68,"n":28},{"group":"Data","x0":0.68,"x1":0.7,"n":16},{"group":"Data","x0":0.7,"x1":0.72,"n":3},
{"group":"Control","x0":0.3,"x1":0.32,"n":1},{"group":"Control","x0":0.36,"x1":0.38,"n":2},{"group":"Control","x0":0.38,"x1":0.4,"n":8},{"group":"Control","x0":0.4,"x1":0.42,"n":16},{"group":"Control","x0":0.42,"x1":0.44,"n":46},{"group":"Control","x0":0.44,"x1":0.46,"n":55},{"group":"Control","x0":0.46,"x1":0.48,"n":65},{"group":"Control","x0":0.48,"x1":0.5,"n":81},{"group":"Control","x0":0.5,"x1":0.52,"n":81},{"group":"Control","x0":0.52,"x1":0.54,"n":58},{"group":"Control","x0":0.54,"x1":0.56,"n":44},{"group":"Control","x0":0.56,"x1":0.58,"n":29},{"group":"Control","x0":0.58,"x1":0.6,"n":7},{"group":"Control","x0":0.6,"x1":0.62,"n":7}],
"h10":[{"group":"Data","x0":0.46,"x1":0.48,"n":1},{"group":"Data","x0":0.48,"x1":0.5,"n":5},{"group":"Data","x0":0.5,"x1":0.52,"n":16},{"group":"Data","x0":0.52,"x1":0.54,"n":32},{"group":"Data","x0":0.54,"x1":0.56,"n":52},{"group":"Data","x0":0.56,"x1":0.58,"n":101},{"group":"Data","x0":0.58,"x1":0.6,"n":77},{"group":"Data","x0":0.6,"x1":0.62,"n":38},{"group":"Data","x0":0.62,"x1":0.64,"n":65},{"group":"Data","x0":0.64,"x1":0.66,"n":50},{"group":"Data","x0":0.66,"x1":0.68,"n":39},{"group":"Data","x0":0.68,"x1":0.7,"n":7},{"group":"Data","x0":0.7,"x1":0.72,"n":10},{"group":"Data","x0":0.72,"x1":0.74,"n":5},
{"group":"Control","x0":0.32,"x1":0.34,"n":1},{"group":"Control","x0":0.34,"x1":0.36,"n":2},{"group":"Control","x0":0.36,"x1":0.38,"n":4},{"group":"Control","x0":0.38,"x1":0.4,"n":14},{"group":"Control","x0":0.4,"x1":0.42,"n":50},{"group":"Control","x0":0.42,"x1":0.44,"n":26},{"group":"Control","x0":0.44,"x1":0.46,"n":75},{"group":"Control","x0":0.46,"x1":0.48,"n":71},{"group":"Control","x0":0.48,"x1":0.5,"n":77},{"group":"Control","x0":0.5,"x1":0.52,"n":67},{"group":"Control","x0":0.52,"x1":0.54,"n":51},{"group":"Control","x0":0.54,"x1":0.56,"n":34},{"group":"Control","x0":0.56,"x1":0.58,"n":22},{"group":"Control","x0":0.58,"x1":0.6,"n":4},{"group":"Control","x0":0.6,"x1":0.62,"n":1},{"group":"Control","x0":0.62,"x1":0.64,"n":1}],
"h11":[{"group":"Data","x0":0.5,"x1":0.52,"n":2},{"group":"Data","x0":0.52,"x1":0.54,"n":10},{"group":"Data","x0":0.54,"x1":0.56,"n":21},{"group":"Data","x0":0.56,"x1":0.58,"n":34},{"group":"Data","x0":0.58,"x1":0.6,"n":39},{"group":"Data","x0":0.6,"x1":0.62,"n":76},{"group":"Data","x0":0.62,"x1":0.64,"n":78},{"group":"Data","x0":0.64,"x1":0.66,"n":76},{"group":"Data","x0":0.66,"x1":0.68,"n":66},{"group":"Data","x0":0.68,"x1":0.7,"n":42},{"group":"Data","x0":0.7,"x1":0.72,"n":33},{"group":"Data","x0":0.72,"x1":0.74,"n":18},{"group":"Data","x0":0.74,"x1":0.76,"n":2},{"group":"Data","x0":0.76,"x1":0.78,"n":2},{"group":"Data","x0":0.8,"x1":0.82,"n":1},
{"group":"Control","x0":0.46,"x1":0.48,"n":7},{"group":"Control","x0":0.48,"x1":0.5,"n":6},{"group":"Control","x0":0.5,"x1":0.52,"n":16},{"group":"Control","x0":0.52,"x1":0.54,"n":31},{"group":"Control","x0":0.54,"x1":0.56,"n":42},{"group":"Control","x0":0.56,"x1":0.58,"n":92},{"group":"Control","x0":0.58,"x1":0.6,"n":76},{"group":"Control","x0":0.6,"x1":0.62,"n":38},{"group":"Control","x0":0.62,"x1":0.64,"n":72},{"group":"Control","x0":0.64,"x1":0.66,"n":59},{"group":"Control","x0":0.66,"x1":0.68,"n":29},{"group":"Control","x0":0.68,"x1":0.7,"n":20},{"group":"Control","x0":0.7,"x1":0.72,"n":7},{"group":"Control","x0":0.72,"x1":0.74,"n":3}],
"h12":[{"group":"Data","x0":0.38,"x1":0.4,"n":1},{"group":"Data","x0":0.4,"x1":0.42,"n":15},{"group":"Data","x0":0.42,"x1":0.44,"n":35},{"group":"Data","x0":0.44,"x1":0.46,"n":33},{"group":"Data","x0":0.46,"x1":0.48,"n":63},{"group":"Data","x0":0.48,"x1":0.5,"n":74},{"group":"Data","x0":0.5,"x1":0.52,"n":88},{"group":"Data","x0":0.52,"x1":0.54,"n":61},{"group":"Data","x0":0.54,"x1":0.56,"n":55},{"group":"Data","x0":0.56,"x1":0.58,"n":52},{"group":"Data","x0":0.58,"x1":0.6,"n":5},{"group":"Data","x0":0.6,"x1":0.62,"n":12},{"group":"Data","x0":0.62,"x1":0.64,"n":4},{"group":"Data","x0":0.64,"x1":0.66,"n":1},{"group":"Data","x0":0.66,"x1":0.68,"n":1},
{"group":"Control","x0":0.46,"x1":0.48,"n":2},{"group":"Control","x0":0.48,"x1":0.5,"n":3},{"group":"Control","x0":0.5,"x1":0.52,"n":2},{"group":"Control","x0":0.52,"x1":0.54,"n":6},{"group":"Control","x0":0.54,"x1":0.56,"n":15},{"group":"Control","x0":0.56,"x1":0.58,"n":47},{"group":"Control","x0":0.58,"x1":0.6,"n":58},{"group":"Control","x0":0.6,"x1":0.62,"n":34},{"group":"Control","x0":0.62,"x1":0.64,"n":75},{"group":"Control","x0":0.64,"x1":0.66,"n":70},{"group":"Control","x0":0.66,"x1":0.68,"n":81},{"group":"Control","x0":0.68,"x1":0.7,"n":51},{"group":"Control","x0":0.7,"x1":0.72,"n":37},{"group":"Control","x0":0.72,"x1":0.74,"n":10},{"group":"Control","x0":0.74,"x1":0.76,"n":6},{"group":"Control","x0":0.76,"x1":0.78,"n":2},{"group":"Control","x0":0.78,"x1":0.8,"n":1}],
"h13":[{"group":"Data","x0":0.34,"x1":0.36,"n":2},{"group":"Data","x0":0.36,"x1":0.38,"n":1},{"group":"Data","x0":0.38,"x1":0.4,"n":12},{"group":"Data","x0":0.4,"x1":0.42,"n":27},{"group":"Data","x0":0.42,"x1":0.44,"n":45},{"group":"Data","x0":0.44,"x1":0.46,"n":32},{"group":"Data","x0":0.46,"x1":0.48,"n":111},{"group":"Data","x0":0.48,"x1":0.5,"n":41},{"group":"Data","x0":0.5,"x1":0.52,"n":62},{"group":"Data","x0":0.52,"x1":0.54,"n":66},{"group":"Data","x0":0.54,"x1":0.56,"n":32},{"group":"Data","x0":0.56,"x1":0.58,"n":46},{"group":"Data","x0":0.58,"x1":0.6,"n":11},{"group":"Data","x0":0.6,"x1":0.62,"n":9},{"group":"Data","x0":0.64,"x1":0.66,"n":1},{"group":"Data","x0":0.66,"x1":0.68,"n":1},
{"group":"Control","x0":0.26,"x1":0.28,"n":3},{"group":"Control","x0":0.28,"x1":0.3,"n":10},{"group":"Control","x0":0.3,"x1":0.32,"n":18},{"group":"Control","x0":0.32,"x1":0.34,"n":32},{"group":"Control","x0":0.34,"x1":0.36,"n":66},{"group":"Control","x0":0.36,"x1":0.38,"n":79},{"group":"Control","x0":0.38,"x1":0.4,"n":63},{"group":"Control","x0":0.4,"x1":0.42,"n":102},{"group":"Control","x0":0.42,"x1":0.44,"n":31},{"group":"Control","x0":0.44,"x1":0.46,"n":51},{"group":"Control","x0":0.46,"x1":0.48,"n":21},{"group":"Control","x0":0.48,"x1":0.5,"n":16},{"group":"Control","x0":0.5,"x1":0.52,"n":5},{"group":"Control","x0":0.52,"x1":0.54,"n":3}],
"h14":[{"group":"Data","x0":0.2,"x1":0.22,"n":4},{"group":"Data","x0":0.22,"x1":0.24,"n":25},{"group":"Data","x0":0.24,"x1":0.26,"n":18},{"group":"Data","x0":0.26,"x1":0.28,"n":41},{"group":"Data","x0":0.28,"x1":0.3,"n":119},{"group":"Data","x0":0.3,"x1":0.32,"n":48},{"group":"Data","x0":0.32,"x1":0.34,"n":72},{"group":"Data","x0":0.34,"x1":0.36,"n":64},{"group":"Data","x0":0.36,"x1":0.38,"n":59},{"group":"Data","x0":0.38,"x1":0.4,"n":22},{"group":"Data","x0":0.4,"x1":0.42,"n":20},{"group":"Data","x0":0.42,"x1":0.44,"n":7},
{"group":"Control","x0":0.16,"x1":0.18,"n":1},{"group":"Control","x0":0.18,"x1":0.2,"n":7},{"group":"Control","x0":0.2,"x1":0.22,"n":19},{"group":"Control","x0":0.22,"x1":0.24,"n":40},{"group":"Control","x0":0.24,"x1":0.26,"n":59},{"group":"Control","x0":0.26,"x1":0.28,"n":81},{"group":"Control","x0":0.28,"x1":0.3,"n":124},{"group":"Control","x0":0.3,"x1":0.32,"n":30},{"group":"Control","x0":0.32,"x1":0.34,"n":69},{"group":"Control","x0":0.34,"x1":0.36,"n":36},{"group":"Control","x0":0.36,"x1":0.38,"n":20},{"group":"Control","x0":0.38,"x1":0.4,"n":3},{"group":"Control","x0":0.4,"x1":0.42,"n":7},{"group":"Control","x0":0.42,"x1":0.44,"n":1}]
},
"vconcat":[
{"hconcat":[
{"width":405,"height":35,"encoding":{"x":{"field":"x","type":"quantitative","scale":{"domain":[0,1]},"axis":null},"y":{"field":"y","type":"quantitative","scale":{"domain":[0,1]},"axis":null},"text":{"field":"s"}},"layer":[{"data":{"values":[{"s":"a","x":0.017,"y":0.486},{"s":"b","x":0.96,"y":0.514}]},"mark":{"type":"text","fontWeight":"bold","fontSize":22}}]},
{"width":707,"height":35,"encoding":{"x":{"field":"x","type":"quantitative","scale":{"domain":[0,1]},"axis":null},"y":{"field":"y","type":"quantitative","scale":{"domain":[0,1]},"axis":null}},"layer":[{"data":{"values":[{"x":0,"x2":1,"y":0.057}]},"mark":{"type":"rule","stroke":"#231815","strokeWidth":3},"encoding":{"x2":{"field":"x2"}}},{"data":{"values":[{"s":"Nothing → Reward (DA2m: n=3)","x":0.523,"y":0.63}]},"mark":{"type":"text","fontSize":24.5},"encoding":{"text":{"field":"s"}}}]}
],"spacing":0,"bounds":"flush"},
{"hconcat":[
{"columns":3,"spacing":0,"bounds":"flush","concat":[
{"width":75,"height":79,"mark":"rect"},{"width":258,"height":79,"mark":"rect"},{"width":15,"height":79,"mark":"rect"},
{"width":75,"height":398,"mark":"rect"},
{"width":258,"height":398,"layer":[
{"data":{"values":[{"z":0}]},"mark":{"type":"rule","stroke":"#999","strokeWidth":1.5,"strokeDash":[7,5]},"encoding":{"y":{"field":"z","type":"quantitative","scale":{"domain":[-10,50]},"axis":{"values":[0,10,20,30,40,50],"offset":-11,"labelExpr":"datum.value==0||datum.value==50?datum.label:''","title":["Beta coefficient (peak ms/trial)","±95% confidence interval"],"titleX":-64,"titleY":178,"labelFontSize":22,"tickSize":8}}}},
{"data":{"name":"a"},"mark":{"type":"rule","stroke":"#231815","strokeWidth":1.5},"encoding":{"x":{"field":"u","type":"quantitative","scale":{"domain":[0,1]},"axis":{"values":[],"title":null,"ticks":false,"labels":false}},"y":{"field":"lo","type":"quantitative"},"y2":{"field":"hi"}}},
{"data":{"name":"a"},"mark":{"type":"point","shape":"stroke","size":49,"stroke":"#231815","strokeWidth":1.5,"opacity":1},"encoding":{"x":{"field":"u","type":"quantitative"},"y":{"field":"lo","type":"quantitative"}}},
{"data":{"name":"a"},"mark":{"type":"point","shape":"stroke","size":49,"stroke":"#231815","strokeWidth":1.5,"opacity":1},"encoding":{"x":{"field":"u","type":"quantitative"},"y":{"field":"hi","type":"quantitative"}}},
{"data":{"name":"a"},"mark":{"type":"point","filled":true,"fill":"white","size":144,"strokeWidth":4,"opacity":1},"encoding":{"x":{"field":"u","type":"quantitative"},"y":{"field":"b","type":"quantitative"},"stroke":{"field":"sig","type":"nominal","scale":{"domain":["sig","ns"],"range":["#e8192c","#231815"]},"legend":null}}},
{"data":{"values":[{"s":"Puff→Rw\nGCaMP6f\n(1 session)","u":0.279,"z":-10},{"s":"None→Rw\nDA2m\n(1 session)","u":0.787,"z":-10}]},"mark":{"type":"text","fontSize":25,"lineBreak":"\n","lineHeight":24.5,"baseline":"top","dy":6},"encoding":{"x":{"field":"u","type":"quantitative"},"y":{"field":"z","type":"quantitative"},"text":{"field":"s"}}}
]},
{"width":15,"height":398,"mark":"rect"},
{"width":75,"height":88,"mark":"rect"},{"width":258,"height":88,"mark":"rect"},{"width":15,"height":88,"mark":"rect"}
]},
{"columns":3,"spacing":0,"bounds":"flush","concat":[
{"width":117,"height":76,"mark":"rect"},{"width":208,"height":76,"mark":"rect"},{"width":47,"height":76,"mark":"rect"},
{"width":117,"height":401,"mark":"rect"},
{"width":208,"height":401,"layer":[
{"data":{"name":"lines"},"mark":{"type":"area","color":"#d6dcec","opacity":1},"encoding":{"x":{"field":"t","type":"quantitative","scale":{"domain":[0,3],"nice":false},"axis":{"values":[0,1,2,3],"format":"d","tickSize":5,"labelPadding":2,"title":"Time (s)","titleX":102,"titleY":38}},"y":{"field":"lo","type":"quantitative","scale":{"domain":[0,2.6225],"nice":false},"axis":null},"y2":{"field":"hi"},"detail":{"field":"k"}}},
{"data":{"values":[{"t":0},{"t":3}]},"mark":{"type":"rule","stroke":"#808080","strokeWidth":3,"strokeDash":[3,3]},"encoding":{"x":{"field":"t","type":"quantitative"}}},
{"data":{"name":"lines"},"mark":{"type":"line","stroke":"#1f3a8a","strokeWidth":2.5,"interpolate":"monotone"},"encoding":{"x":{"field":"t","type":"quantitative"},"y":{"field":"y","type":"quantitative"},"detail":{"field":"k"}}},
{"data":{"name":"peaks"},"mark":{"type":"point","shape":"triangle-down","filled":true,"fill":"#231815","stroke":null,"size":230,"opacity":1},"encoding":{"x":{"field":"t","type":"quantitative"},"y":{"field":"y","type":"quantitative"}}},
{"data":{"values":[{"t":0.416,"t2":0.416,"y":2.2325,"y2":2.6325},{"t":0.416,"t2":0.502,"y":2.2325,"y2":2.2325},{"t":0.416,"t2":0.502,"y":2.6325,"y2":2.6325}]},"mark":{"type":"rule","stroke":"#231815","strokeWidth":2},"encoding":{"x":{"field":"t","type":"quantitative"},"x2":{"field":"t2"},"y":{"field":"y","type":"quantitative"},"y2":{"field":"y2"}}},
{"data":{"values":[{"s":"Odor","t":-0.07,"y":2.67},{"s":"0.4","t":0.75,"y":2.63},{"s":"0","t":0.65,"y":2.245},{"s":"Trial","t":-0.53,"y":2.3325},{"s":"1-8","t":-0.53,"y":2.06},{"s":"9-16","t":-0.53,"y":1.57},{"s":"17-24","t":-0.53,"y":1.08},{"s":"25-32","t":-0.53,"y":0.63},{"s":"33-40","t":-0.53,"y":0.14}]},"mark":{"type":"text","fontSize":20},"encoding":{"x":{"field":"t","type":"quantitative"},"y":{"field":"y","type":"quantitative"},"text":{"field":"s"}}},
{"data":{"values":[{"s":"Normalized","t":1.33,"y":2.4325},{"s":"activity","t":1.08,"y":2.4325}]},"mark":{"type":"text","fontSize":19,"angle":90},"encoding":{"x":{"field":"t","type":"quantitative"},"y":{"field":"y","type":"quantitative"},"text":{"field":"s"}}},
{"data":{"values":[{"t":3,"y":2.7}]},"mark":{"type":"point","shape":"M0,-1C0.15,-0.6 0.6,-0.2 0.6,0.4C0.6,0.8 0.3,1 0,1C-0.3,1 -0.6,0.8 -0.6,0.4C-0.6,-0.2 -0.15,-0.6 0,-1Z","filled":true,"fill":"#a8c8e6","stroke":"#2f6ab0","strokeWidth":1.5,"size":441,"opacity":1},"encoding":{"x":{"field":"t","type":"quantitative"},"y":{"field":"y","type":"quantitative"}}}
]},
{"width":47,"height":401,"mark":"rect"},
{"width":117,"height":88,"mark":"rect"},{"width":208,"height":88,"mark":"rect"},{"width":47,"height":88,"mark":"rect"}
]},
{"columns":3,"spacing":0,"bounds":"flush","concat":[
{"width":73,"height":72,"mark":"rect"},
{"width":234,"height":72,"encoding":{"x":{"field":"x","type":"quantitative","scale":{"domain":[0,1]},"axis":null},"y":{"field":"y","type":"quantitative","scale":{"domain":[0,1]},"axis":null}},"layer":[{"data":{"values":[{"s":"Odor","x":0,"y":0.256},{"s":"Normalized","x":1.043,"y":0.75},{"s":"activity","x":1.043,"y":0.5}]},"mark":{"type":"text","fontSize":19},"encoding":{"text":{"field":"s"}}},{"data":{"values":[{"x":0.982,"y":0.208}]},"mark":{"type":"point","shape":"M0,-1C0.15,-0.6 0.6,-0.2 0.6,0.4C0.6,0.8 0.3,1 0,1C-0.3,1 -0.6,0.8 -0.6,0.4C-0.6,-0.2 -0.15,-0.6 0,-1Z","filled":true,"fill":"#a8c8e6","stroke":"#2f6ab0","strokeWidth":1.5,"size":441,"opacity":1}}]},
{"width":500,"height":72,"mark":"rect"},
{"width":73,"height":176,"mark":"rect"},
{"width":234,"height":176,"view":{"stroke":"#666","strokeWidth":1.5},"resolve":{"scale":{"x":"independent","y":"independent"},"axis":{"x":"independent","y":"independent"}},"layer":[
{"data":{"name":"heat"},"mark":{"type":"rect","strokeWidth":0.6},"encoding":{"x":{"field":"c","type":"ordinal","axis":{"values":[1,5,10,15],"tickSize":5,"labelAngle":0,"labelPadding":6,"labelExpr":"datum.value==1?'0':datum.value==15?'3':''","title":"Time - Odor (s)","titleX":115,"titleY":28,"domain":false}},"y":{"field":"r","type":"ordinal","axis":{"values":[1,20,40],"offset":0,"tickSize":5,"labelExpr":"datum.value==20?'':datum.value==1?'0':datum.label","title":"Trial","titleX":-48,"titleY":85,"domain":false}},"fill":{"field":"v","type":"quantitative","scale":{"domain":[-0.79,0,0.79],"nice":false,"range":["#43b8ec","#000000","#f7ea18"]},"legend":null},"stroke":{"field":"v","type":"quantitative","scale":{"domain":[-0.79,0,0.79],"nice":false,"range":["#43b8ec","#000000","#f7ea18"]},"legend":null}}},
{"data":{"name":"colorbar"},"mark":{"type":"rect","strokeWidth":0.6},"encoding":{"x":{"field":"x0","type":"quantitative","scale":{"domain":[0,1],"nice":false},"axis":{"orient":"top","values":[0.316,0.65,0.983],"labels":false,"title":null,"domain":false,"tickSize":4}},"x2":{"field":"x1"},"y":{"field":"v0","type":"quantitative","scale":{"domain":[-0.79,0.79],"nice":false},"axis":{"orient":"right","values":[-0.6,0,0.6],"offset":21,"ticks":false,"domain":false,"labelPadding":0,"labelFontSize":19,"labelExpr":"datum.value==0?'0':format(datum.value,'.1f')","title":null}},"y2":{"field":"v1"},"fill":{"field":"v","type":"quantitative","legend":null},"stroke":{"field":"v","type":"quantitative","legend":null}}}
]},
{"width":1,"height":176,"mark":"rect"},
{"width":1,"height":48,"mark":"rect"},{"width":1,"height":48,"mark":"rect"},{"width":1,"height":48,"mark":"rect"},
{"width":73,"height":182,"mark":"rect"},
{"width":246,"height":182,"layer":[
{"data":{"name":"scatter"},"mark":{"type":"point","filled":false,"stroke":"#666","strokeWidth":2.3,"size":45,"opacity":1},"encoding":{"x":{"field":"trial","type":"quantitative","scale":{"domain":[0,41.2],"nice":false},"axis":{"values":[0,40],"tickSize":5,"labelPadding":3,"title":"Trial","titleX":119,"titleY":32}},"y":{"field":"peak","type":"quantitative","scale":{"domain":[0,3],"nice":false},"axis":{"values":[0,3],"format":"d","offset":0,"tickSize":7,"title":"DA axon activity peak","titleX":-59,"titleY":94,"titleFontSize":25}}}},
{"data":{"values":[{"trial":1,"peak":0.07},{"trial":40,"peak":1.32}]},"mark":{"type":"line","stroke":"#231815","strokeWidth":3},"encoding":{"x":{"field":"trial","type":"quantitative"},"y":{"field":"peak","type":"quantitative"}}},
{"data":{"values":[{"s":"(s before water)","trial":-4.6,"peak":1.48}]},"mark":{"type":"text","fontSize":19,"angle":270},"encoding":{"x":{"field":"trial","type":"quantitative"},"y":{"field":"peak","type":"quantitative"},"text":{"field":"s"}}}
]},
{"width":1,"height":182,"mark":"rect"},
{"width":1,"height":87,"mark":"rect"},{"width":1,"height":87,"mark":"rect"},{"width":1,"height":87,"mark":"rect"}
]}
],"spacing":0},
{"hconcat":[
{"width":44,"height":112,"encoding":{"x":{"field":"x","type":"quantitative","scale":{"domain":[0,1]},"axis":null},"y":{"field":"y","type":"quantitative","scale":{"domain":[0,1]},"axis":null},"text":{"field":"s"}},"layer":[{"data":{"values":[{"s":"c","x":0.136,"y":0.464}]},"mark":{"type":"text","fontWeight":"bold","fontSize":22}}]},
{"width":1513,"height":112,"encoding":{"x":{"field":"x","type":"quantitative","scale":{"domain":[0,1]},"axis":null},"y":{"field":"y","type":"quantitative","scale":{"domain":[0,1]},"axis":null}},"layer":[{"data":{"values":[{"x":0,"x2":1,"y":0.027}]},"mark":{"type":"rule","stroke":"#444","strokeWidth":3},"encoding":{"x2":{"field":"x2"}}},{"data":{"values":[{"s":"Monotonic relation test","x":0.0046,"y":0.304}]},"mark":{"type":"text","fontSize":28,"align":"left"},"encoding":{"text":{"field":"s"}}},{"data":{"values":[{"s":"Nothing-Reward","x":0.492,"y":0.2}]},"mark":{"type":"text","fontSize":25},"encoding":{"text":{"field":"s"}}}]}
],"spacing":0,"bounds":"flush"},
{"columns":8,"spacing":0,"bounds":"flush","concat":[
{"width":1,"height":34,"mark":"rect"},{"width":1,"height":34,"mark":"rect"},{"width":1,"height":34,"mark":"rect"},{"width":1,"height":34,"mark":"rect"},{"width":1,"height":34,"mark":"rect"},{"width":1,"height":34,"mark":"rect"},{"width":1,"height":34,"mark":"rect"},{"width":1,"height":34,"mark":"rect"},
{"width":81,"height":222,"mark":"rect"},
{"width":303,"height":222,"layer":[{"data":{"name":"h1"},"mark":{"type":"rect","stroke":"#111","strokeWidth":1.8},"encoding":{"x":{"field":"x0","type":"quantitative","scale":{"domain":[0.3548,0.7389],"nice":false},"axis":{"values":[0.4,0.45,0.5,0.55,0.6,0.65,0.7],"labelExpr":"round(datum.value*100)%10==0?format(datum.value,'.1f'):''","title":"Probability of monotonic relation","titleX":155}},"x2":{"field":"x1"},"y":{"field":"n","type":"quantitative","scale":{"domain":[0,140],"nice":false},"axis":{"values":[0,20,40,60,80,100,120],"labelExpr":"datum.value==0?'0':''","title":"Fraction"}},"y2":{"datum":0},"fill":{"field":"group","type":"nominal","scale":{"domain":["Data","Control"],"range":["#62a9d9","rgba(217,81,15,0.58)"]},"legend":null}}},{"data":{"values":[{"x":0.3548,"x2":0.3624,"y":140}]},"mark":{"type":"rule","stroke":"#333","strokeWidth":1.5},"encoding":{"x":{"field":"x","type":"quantitative"},"x2":{"field":"x2"},"y":{"field":"y","type":"quantitative"}}},{"data":{"values":[{"s":"140","x":0.3497,"y":140}]},"mark":{"type":"text","fontSize":20,"align":"right"},"encoding":{"x":{"field":"x","type":"quantitative"},"y":{"field":"y","type":"quantitative"},"text":{"field":"s"}}},{"data":{"values":[{"s":"***","x":0.5486,"y":139.4}]},"mark":{"type":"text","fontSize":35,"fontWeight":"bold","baseline":"alphabetic","color":"#3b4aa6"},"encoding":{"x":{"field":"x","type":"quantitative"},"y":{"field":"y","type":"quantitative"},"text":{"field":"s"}}}]},
{"width":78,"height":222,"mark":"rect"},
{"width":302,"height":222,"layer":[{"data":{"name":"h2"},"mark":{"type":"rect","stroke":"#111","strokeWidth":1.8},"encoding":{"x":{"field":"x0","type":"quantitative","scale":{"domain":[0.2711,0.6997],"nice":false},"axis":{"values":[0.3,0.4,0.5,0.6],"labelExpr":"format(datum.value,'.1f')","title":"Probability of monotonic relation","titleX":151}},"x2":{"field":"x1"},"y":{"field":"n","type":"quantitative","scale":{"domain":[0,100],"nice":false},"axis":{"values":[0,20,40,60,80,100],"labelExpr":"datum.value==0||datum.value==100?datum.label:''","title":"Fraction"}},"y2":{"datum":0},"fill":{"field":"group","type":"nominal","scale":{"domain":["Data","Control"],"range":["#62a9d9","rgba(217,81,15,0.58)"]},"legend":null}}},{"data":{"values":[{"s":"***","x":0.4822,"y":99.5}]},"mark":{"type":"text","fontSize":35,"fontWeight":"bold","baseline":"alphabetic","color":"#3b4aa6"},"encoding":{"x":{"field":"x","type":"quantitative"},"y":{"field":"y","type":"quantitative"},"text":{"field":"s"}}}]},
{"width":89,"height":222,"mark":"rect"},
{"width":302,"height":222,"layer":[{"data":{"name":"h3"},"mark":{"type":"rect","stroke":"#111","strokeWidth":1.8},"encoding":{"x":{"field":"x0","type":"quantitative","scale":{"domain":[0.4313,0.8805],"nice":false},"axis":{"values":[0.5,0.6,0.7,0.8],"labelExpr":"format(datum.value,'.1f')","title":"Probability of monotonic relation","titleX":153}},"x2":{"field":"x1"},"y":{"field":"n","type":"quantitative","scale":{"domain":[0,100],"nice":false},"axis":{"values":[0,20,40,60,80,100],"labelExpr":"datum.value==0||datum.value==100?datum.label:''","title":"Fraction"}},"y2":{"datum":0},"fill":{"field":"group","type":"nominal","scale":{"domain":["Data","Control"],"range":["#62a9d9","rgba(217,81,15,0.58)"]},"legend":null}}},{"data":{"values":[{"s":"***","x":0.6595,"y":99.5}]},"mark":{"type":"text","fontSize":35,"fontWeight":"bold","baseline":"alphabetic","color":"#3b4aa6"},"encoding":{"x":{"field":"x","type":"quantitative"},"y":{"field":"y","type":"quantitative"},"text":{"field":"s"}}}]},
{"width":400,"height":222,"encoding":{"x":{"field":"x","type":"quantitative","scale":{"domain":[0,1]},"axis":null},"y":{"field":"y","type":"quantitative","scale":{"domain":[0,1]},"axis":null}},"layer":[{"data":{"values":[{"group":"Data","x":0.15,"x2":0.255,"y":0.883,"y2":0.775},{"group":"Control","x":0.15,"x2":0.255,"y":0.671,"y2":0.568}]},"mark":{"type":"rect","stroke":"#111","strokeWidth":2},"encoding":{"x2":{"field":"x2"},"y2":{"field":"y2"},"fill":{"field":"group","type":"nominal","scale":{"domain":["Data","Control"],"range":["#62a9d9","rgba(217,81,15,0.58)"]},"legend":null}}},{"data":{"values":[{"s":"Data","x":0.29,"y":0.829},{"s":"Control","x":0.29,"y":0.622}]},"mark":{"type":"text","fontSize":26,"align":"left"},"encoding":{"text":{"field":"s"}}},{"data":{"values":[{"s":"p<0.001 (Data>Control)","x":0.2825,"y":0.293},{"s":"p<0.001 (Data<Control)","x":0.2825,"y":0.086}]},"mark":{"type":"text","fontSize":27,"align":"left"},"encoding":{"text":{"field":"s"}}},{"data":{"values":[{"s":"***","x":0.204,"y":0.261}]},"mark":{"type":"text","fontSize":35,"fontWeight":"bold","baseline":"alphabetic","color":"#3b4aa6"},"encoding":{"text":{"field":"s"}}},{"data":{"values":[{"s":"***","x":0.204,"y":0.045}]},"mark":{"type":"text","fontSize":35,"fontWeight":"bold","baseline":"alphabetic","color":"#d8452a"},"encoding":{"text":{"field":"s"}}}]},
{"width":1,"height":222,"mark":"rect"},
{"width":1,"height":72,"mark":"rect"},{"width":1,"height":72,"mark":"rect"},{"width":1,"height":72,"mark":"rect"},{"width":1,"height":72,"mark":"rect"},{"width":1,"height":72,"mark":"rect"},{"width":1,"height":72,"mark":"rect"},{"width":1,"height":72,"mark":"rect"},{"width":1,"height":72,"mark":"rect"}
]},
{"columns":8,"spacing":0,"bounds":"flush","concat":[
{"width":1,"height":41,"mark":"rect"},{"width":1,"height":41,"mark":"rect"},{"width":1,"height":41,"mark":"rect"},{"width":1,"height":41,"mark":"rect"},{"width":1,"height":41,"mark":"rect"},{"width":1,"height":41,"mark":"rect"},{"width":1,"height":41,"mark":"rect"},{"width":1,"height":41,"mark":"rect"},
{"width":81,"height":222,"mark":"rect"},
{"width":303,"height":222,"layer":[{"data":{"name":"h4"},"mark":{"type":"rect","stroke":"#111","strokeWidth":1.8},"encoding":{"x":{"field":"x0","type":"quantitative","scale":{"domain":[0.1836,0.748],"nice":false},"axis":{"values":[0.2,0.3,0.4,0.5,0.6,0.7],"labelExpr":"round(datum.value*100)%20==0?format(datum.value,'.1f'):''","title":"Probability of monotonic relation","titleX":155}},"x2":{"field":"x1"},"y":{"field":"n","type":"quantitative","scale":{"domain":[0,120],"nice":false},"axis":{"values":[0,20,40,60,80,100,120],"labelExpr":"datum.value==0||datum.value==120?datum.label:''","title":"Fraction"}},"y2":{"datum":0},"fill":{"field":"group","type":"nominal","scale":{"domain":["Data","Control"],"range":["#62a9d9","rgba(217,81,15,0.58)"]},"legend":null}}},{"data":{"values":[{"s":"***","x":0.4654,"y":121.1}]},"mark":{"type":"text","fontSize":35,"fontWeight":"bold","baseline":"alphabetic","color":"#3b4aa6"},"encoding":{"x":{"field":"x","type":"quantitative"},"y":{"field":"y","type":"quantitative"},"text":{"field":"s"}}}]},
{"width":78,"height":222,"mark":"rect"},
{"width":302,"height":222,"layer":[{"data":{"name":"h5"},"mark":{"type":"rect","stroke":"#111","strokeWidth":1.8},"encoding":{"x":{"field":"x0","type":"quantitative","scale":{"domain":[0.0586,0.7555],"nice":false},"axis":{"values":[0.1,0.2,0.3,0.4,0.5,0.6,0.7],"labelExpr":"round(datum.value*100)%20==0?format(datum.value,'.1f'):''","title":"Probability of monotonic relation","titleX":151}},"x2":{"field":"x1"},"y":{"field":"n","type":"quantitative","scale":{"domain":[0,140],"nice":false},"axis":{"values":[0,20,40,60,80,100,120],"labelExpr":"datum.value==0?'0':''","title":"Fraction"}},"y2":{"datum":0},"fill":{"field":"group","type":"nominal","scale":{"domain":["Data","Control"],"range":["#62a9d9","rgba(217,81,15,0.58)"]},"legend":null}}},{"data":{"values":[{"x":0.0586,"x2":0.07245,"y":140}]},"mark":{"type":"rule","stroke":"#333","strokeWidth":1.5},"encoding":{"x":{"field":"x","type":"quantitative"},"x2":{"field":"x2"},"y":{"field":"y","type":"quantitative"}}},{"data":{"values":[{"s":"140","x":0.0494,"y":140}]},"mark":{"type":"text","fontSize":20,"align":"right"},"encoding":{"x":{"field":"x","type":"quantitative"},"y":{"field":"y","type":"quantitative"},"text":{"field":"s"}}},{"data":{"values":[{"s":"***","x":0.4007,"y":141.3}]},"mark":{"type":"text","fontSize":35,"fontWeight":"bold","baseline":"alphabetic","color":"#3b4aa6"},"encoding":{"x":{"field":"x","type":"quantitative"},"y":{"field":"y","type":"quantitative"},"text":{"field":"s"}}}]},
{"width":87,"height":222,"mark":"rect"},
{"width":302,"height":222,"data":{"name":"h6"},"mark":{"type":"rect","stroke":"#111","strokeWidth":1.8},"encoding":{"x":{"field":"x0","type":"quantitative","scale":{"domain":[0.4557,0.838],"nice":false},"axis":{"values":[0.5,0.55,0.6,0.65,0.7,0.75,0.8],"labelExpr":"round(datum.value*100)%10==0?format(datum.value,'.1f'):''","title":"Probability of monotonic relation","titleX":155}},"x2":{"field":"x1"},"y":{"field":"n","type":"quantitative","scale":{"domain":[0,100],"nice":false},"axis":{"values":[0,20,40,60,80,100],"labelExpr":"datum.value==0||datum.value==100?datum.label:''","title":"Fraction"}},"y2":{"datum":0},"fill":{"field":"group","type":"nominal","scale":{"domain":["Data","Control"],"range":["#62a9d9","rgba(217,81,15,0.58)"]},"legend":null}}},
{"width":81,"height":222,"mark":"rect"},
{"width":337,"height":222,"layer":[{"data":{"name":"h7"},"mark":{"type":"rect","stroke":"#111","strokeWidth":1.8},"encoding":{"x":{"field":"x0","type":"quantitative","scale":{"domain":[0.1167,0.4783],"nice":false},"axis":{"values":[0.15,0.2,0.25,0.3,0.35,0.4,0.45],"labelExpr":"round(datum.value*100)%10==0?format(datum.value,'.1f'):''","title":"Probability of monotonic relation","titleX":163}},"x2":{"field":"x1"},"y":{"field":"n","type":"quantitative","scale":{"domain":[0,140],"nice":false},"axis":{"values":[0,20,40,60,80,100,120],"labelExpr":"datum.value==0?'0':''","title":"Fraction","titleX":-52}},"y2":{"datum":0},"fill":{"field":"group","type":"nominal","scale":{"domain":["Data","Control"],"range":["#62a9d9","rgba(217,81,15,0.58)"]},"legend":null}}},{"data":{"values":[{"x":0.1167,"x2":0.1231,"y":140}]},"mark":{"type":"rule","stroke":"#333","strokeWidth":1.5},"encoding":{"x":{"field":"x","type":"quantitative"},"x2":{"field":"x2"},"y":{"field":"y","type":"quantitative"}}},{"data":{"values":[{"s":"140","x":0.1124,"y":140}]},"mark":{"type":"text","fontSize":20,"align":"right"},"encoding":{"x":{"field":"x","type":"quantitative"},"y":{"field":"y","type":"quantitative"},"text":{"field":"s"}}},{"data":{"values":[{"s":"***","x":0.3043,"y":138.1}]},"mark":{"type":"text","fontSize":35,"fontWeight":"bold","baseline":"alphabetic","color":"#3b4aa6"},"encoding":{"x":{"field":"x","type":"quantitative"},"y":{"field":"y","type":"quantitative"},"text":{"field":"s"}}}]},
{"width":1,"height":69,"mark":"rect"},{"width":1,"height":69,"mark":"rect"},{"width":1,"height":69,"mark":"rect"},{"width":1,"height":69,"mark":"rect"},{"width":1,"height":69,"mark":"rect"},{"width":1,"height":69,"mark":"rect"},{"width":1,"height":69,"mark":"rect"},{"width":1,"height":69,"mark":"rect"}
]},
{"hconcat":[
{"width":44,"height":65,"mark":"rect"},
{"width":1513,"height":65,"encoding":{"x":{"field":"x","type":"quantitative","scale":{"domain":[0,1]},"axis":null},"y":{"field":"y","type":"quantitative","scale":{"domain":[0,1]},"axis":null}},"layer":[{"data":{"values":[{"x":0,"x2":1,"y":0.046}]},"mark":{"type":"rule","stroke":"#444","strokeWidth":3},"encoding":{"x2":{"field":"x2"}}},{"data":{"values":[{"s":"Airpuff-Reward","x":0.493,"y":0.323}]},"mark":{"type":"text","fontSize":25},"encoding":{"text":{"field":"s"}}}]}
],"spacing":0,"bounds":"flush"},
{"columns":8,"spacing":0,"bounds":"flush","concat":[
{"width":1,"height":35,"mark":"rect"},{"width":1,"height":35,"mark":"rect"},{"width":1,"height":35,"mark":"rect"},{"width":1,"height":35,"mark":"rect"},{"width":1,"height":35,"mark":"rect"},{"width":1,"height":35,"mark":"rect"},{"width":1,"height":35,"mark":"rect"},{"width":1,"height":35,"mark":"rect"},
{"width":81,"height":222,"mark":"rect"},
{"width":303,"height":222,"layer":[{"data":{"name":"h8"},"mark":{"type":"rect","stroke":"#111","strokeWidth":1.8},"encoding":{"x":{"field":"x0","type":"quantitative","scale":{"domain":[0.4083,0.882],"nice":false},"axis":{"values":[0.5,0.6,0.7,0.8],"labelExpr":"format(datum.value,'.1f')","title":"Probability of monotonic relation","titleX":155}},"x2":{"field":"x1"},"y":{"field":"n","type":"quantitative","scale":{"domain":[0,100],"nice":false},"axis":{"values":[0,20,40,60,80,100],"labelExpr":"datum.value==0||datum.value==100?datum.label:''","title":"Fraction"}},"y2":{"datum":0},"fill":{"field":"group","type":"nominal","scale":{"domain":["Data","Control"],"range":["#62a9d9","rgba(217,81,15,0.58)"]},"legend":null}}},{"data":{"values":[{"s":"***","x":0.6434,"y":100.9}]},"mark":{"type":"text","fontSize":35,"fontWeight":"bold","baseline":"alphabetic","color":"#3b4aa6"},"encoding":{"x":{"field":"x","type":"quantitative"},"y":{"field":"y","type":"quantitative"},"text":{"field":"s"}}}]},
{"width":77,"height":222,"mark":"rect"},
{"width":303,"height":222,"layer":[{"data":{"name":"h9"},"mark":{"type":"rect","stroke":"#111","strokeWidth":1.8},"encoding":{"x":{"field":"x0","type":"quantitative","scale":{"domain":[0.267,0.7408],"nice":false},"axis":{"values":[0.3,0.4,0.5,0.6,0.7],"labelExpr":"format(datum.value,'.1f')","title":"Probability of monotonic relation","titleX":153}},"x2":{"field":"x1"},"y":{"field":"n","type":"quantitative","scale":{"domain":[0,120],"nice":false},"axis":{"values":[0,20,40,60,80,100,120],"labelExpr":"datum.value==0||datum.value==120?datum.label:''","title":"Fraction"}},"y2":{"datum":0},"fill":{"field":"group","type":"nominal","scale":{"domain":["Data","Control"],"range":["#62a9d9","rgba(217,81,15,0.58)"]},"legend":null}}},{"data":{"values":[{"s":"***","x":0.4975,"y":121.1}]},"mark":{"type":"text","fontSize":35,"fontWeight":"bold","baseline":"alphabetic","color":"#3b4aa6"},"encoding":{"x":{"field":"x","type":"quantitative"},"y":{"field":"y","type":"quantitative"},"text":{"field":"s"}}}]},
{"width":89,"height":222,"mark":"rect"},
{"width":304,"height":222,"layer":[{"data":{"name":"h10"},"mark":{"type":"rect","stroke":"#111","strokeWidth":1.8},"encoding":{"x":{"field":"x0","type":"quantitative","scale":{"domain":[0.2861,0.7604],"nice":false},"axis":{"values":[0.3,0.4,0.5,0.6,0.7],"labelExpr":"format(datum.value,'.1f')","title":"Probability of monotonic relation","titleX":153}},"x2":{"field":"x1"},"y":{"field":"n","type":"quantitative","scale":{"domain":[0,120],"nice":false},"axis":{"values":[0,20,40,60,80,100,120],"labelExpr":"datum.value==0||datum.value==120?datum.label:''","title":"Fraction"}},"y2":{"datum":0},"fill":{"field":"group","type":"nominal","scale":{"domain":["Data","Control"],"range":["#62a9d9","rgba(217,81,15,0.58)"]},"legend":null}}},{"data":{"values":[{"s":"***","x":0.5207,"y":121.1}]},"mark":{"type":"text","fontSize":35,"fontWeight":"bold","baseline":"alphabetic","color":"#3b4aa6"},"encoding":{"x":{"field":"x","type":"quantitative"},"y":{"field":"y","type":"quantitative"},"text":{"field":"s"}}}]},
{"width":1,"height":222,"mark":"rect"},{"width":1,"height":222,"mark":"rect"},
{"width":1,"height":66,"mark":"rect"},{"width":1,"height":66,"mark":"rect"},{"width":1,"height":66,"mark":"rect"},{"width":1,"height":66,"mark":"rect"},{"width":1,"height":66,"mark":"rect"},{"width":1,"height":66,"mark":"rect"},{"width":1,"height":66,"mark":"rect"},{"width":1,"height":66,"mark":"rect"}
]},
{"columns":8,"spacing":0,"bounds":"flush","concat":[
{"width":1,"height":53,"mark":"rect"},{"width":1,"height":53,"mark":"rect"},{"width":1,"height":53,"mark":"rect"},{"width":1,"height":53,"mark":"rect"},{"width":1,"height":53,"mark":"rect"},{"width":1,"height":53,"mark":"rect"},{"width":1,"height":53,"mark":"rect"},{"width":1,"height":53,"mark":"rect"},
{"width":81,"height":222,"mark":"rect"},
{"width":302,"height":222,"layer":[{"data":{"name":"h11"},"mark":{"type":"rect","stroke":"#111","strokeWidth":1.8},"encoding":{"x":{"field":"x0","type":"quantitative","scale":{"domain":[0.4336,0.8389],"nice":false},"axis":{"values":[0.5,0.6,0.7,0.8],"labelExpr":"format(datum.value,'.1f')","title":"Probability of monotonic relation","titleX":155}},"x2":{"field":"x1"},"y":{"field":"n","type":"quantitative","scale":{"domain":[0,100],"nice":false},"axis":{"values":[0,20,40,60,80,100],"labelExpr":"datum.value==0||datum.value==100?datum.label:''","title":"Fraction"}},"y2":{"datum":0},"fill":{"field":"group","type":"nominal","scale":{"domain":["Data","Control"],"range":["#62a9d9","rgba(217,81,15,0.58)"]},"legend":null}}},{"data":{"values":[{"s":"***","x":0.6349,"y":101.4}]},"mark":{"type":"text","fontSize":35,"fontWeight":"bold","baseline":"alphabetic","color":"#3b4aa6"},"encoding":{"x":{"field":"x","type":"quantitative"},"y":{"field":"y","type":"quantitative"},"text":{"field":"s"}}}]},
{"width":79,"height":222,"mark":"rect"},
{"width":302,"height":222,"layer":[{"data":{"name":"h12"},"mark":{"type":"rect","stroke":"#111","strokeWidth":1.8},"encoding":{"x":{"field":"x0","type":"quantitative","scale":{"domain":[0.3479,0.8224],"nice":false},"axis":{"values":[0.4,0.5,0.6,0.7,0.8],"labelExpr":"format(datum.value,'.1f')","title":"Probability of monotonic relation","titleX":151}},"x2":{"field":"x1"},"y":{"field":"n","type":"quantitative","scale":{"domain":[0,100],"nice":false},"axis":{"values":[0,20,40,60,80,100],"labelExpr":"datum.value==0||datum.value==100?datum.label:''","title":"Fraction"}},"y2":{"datum":0},"fill":{"field":"group","type":"nominal","scale":{"domain":["Data","Control"],"range":["#62a9d9","rgba(217,81,15,0.58)"]},"legend":null}}},{"data":{"values":[{"s":"***","x":0.5742,"y":100.5}]},"mark":{"type":"text","fontSize":35,"fontWeight":"bold","baseline":"alphabetic","color":"#d8452a"},"encoding":{"x":{"field":"x","type":"quantitative"},"y":{"field":"y","type":"quantitative"},"text":{"field":"s"}}}]},
{"width":90,"height":222,"mark":"rect"},
{"width":302,"height":222,"layer":[{"data":{"name":"h13"},"mark":{"type":"rect","stroke":"#111","strokeWidth":1.8},"encoding":{"x":{"field":"x0","type":"quantitative","scale":{"domain":[0.2291,0.7009],"nice":false},"axis":{"values":[0.3,0.4,0.5,0.6,0.7],"labelExpr":"format(datum.value,'.1f')","title":"Probability of monotonic relation","titleX":152}},"x2":{"field":"x1"},"y":{"field":"n","type":"quantitative","scale":{"domain":[0,120],"nice":false},"axis":{"values":[0,20,40,60,80,100,120],"labelExpr":"datum.value==0||datum.value==120?datum.label:''","title":"Fraction"}},"y2":{"datum":0},"fill":{"field":"group","type":"nominal","scale":{"domain":["Data","Control"],"range":["#62a9d9","rgba(217,81,15,0.58)"]},"legend":null}}},{"data":{"values":[{"s":"***","x":0.4623,"y":121.6}]},"mark":{"type":"text","fontSize":35,"fontWeight":"bold","baseline":"alphabetic","color":"#3b4aa6"},"encoding":{"x":{"field":"x","type":"quantitative"},"y":{"field":"y","type":"quantitative"},"text":{"field":"s"}}}]},
{"width":82,"height":222,"mark":"rect"},
{"width":302,"height":222,"layer":[{"data":{"name":"h14"},"mark":{"type":"rect","stroke":"#111","strokeWidth":1.8},"encoding":{"x":{"field":"x0","type":"quantitative","scale":{"domain":[0.1395,0.455],"nice":false},"axis":{"values":[0.15,0.2,0.25,0.3,0.35,0.4,0.45],"labelExpr":"round(datum.value*100)%10==0?format(datum.value,'.1f'):''","title":"Probability of monotonic relation","titleX":159}},"x2":{"field":"x1"},"y":{"field":"n","type":"quantitative","scale":{"domain":[0,140],"nice":false},"axis":{"values":[0,20,40,60,80,100,120],"labelExpr":"datum.value==0?'0':''","title":"Fraction","titleX":-52}},"y2":{"datum":0},"fill":{"field":"group","type":"nominal","scale":{"domain":["Data","Control"],"range":["#62a9d9","rgba(217,81,15,0.58)"]},"legend":null}}},{"data":{"values":[{"x":0.1395,"x2":0.1458,"y":140}]},"mark":{"type":"rule","stroke":"#333","strokeWidth":1.5},"encoding":{"x":{"field":"x","type":"quantitative"},"x2":{"field":"x2"},"y":{"field":"y","type":"quantitative"}}},{"data":{"values":[{"s":"140","x":0.1353,"y":140}]},"mark":{"type":"text","fontSize":20,"align":"right"},"encoding":{"x":{"field":"x","type":"quantitative"},"y":{"field":"y","type":"quantitative"},"text":{"field":"s"}}},{"data":{"values":[{"s":"***","x":0.3204,"y":141.9}]},"mark":{"type":"text","fontSize":35,"fontWeight":"bold","baseline":"alphabetic","color":"#3b4aa6"},"encoding":{"x":{"field":"x","type":"quantitative"},"y":{"field":"y","type":"quantitative"},"text":{"field":"s"}}}]},
{"width":1,"height":65,"mark":"rect"},{"width":1,"height":65,"mark":"rect"},{"width":1,"height":65,"mark":"rect"},{"width":1,"height":65,"mark":"rect"},{"width":1,"height":65,"mark":"rect"},{"width":1,"height":65,"mark":"rect"},{"width":1,"height":65,"mark":"rect"},{"width":1,"height":65,"mark":"rect"}
]}
]}
